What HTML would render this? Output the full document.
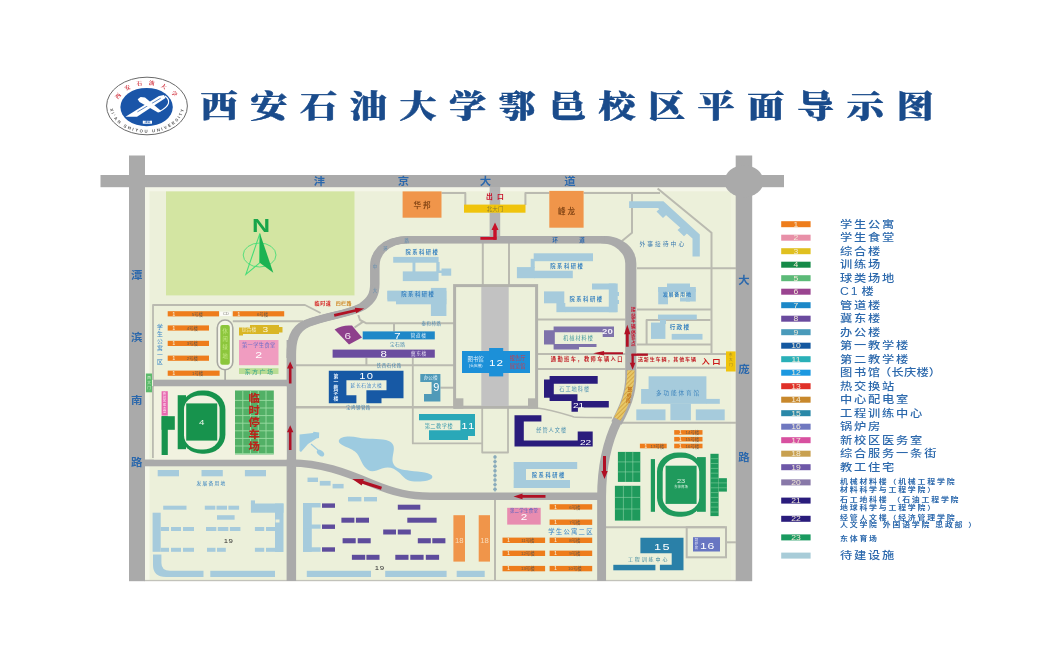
<!DOCTYPE html>
<html lang="zh-CN"><head><meta charset="utf-8"><title>西安石油大学鄠邑校区平面导示图</title>
<style>html,body{margin:0;padding:0;background:#fff;overflow:hidden}svg{display:block;filter:blur(0.45px)}</style></head>
<body>
<svg width="1063" height="646" viewBox="0 0 1063 646">
<rect width="1063" height="646" fill="#ffffff"/>
<rect x="144.5" y="186.8" width="591.5" height="394.2" fill="#ecf0da"/>
<rect x="144.5" y="186.8" width="591.5" height="4.5" fill="#f4f6e8"/>
<rect x="144.5" y="186.8" width="5.0" height="393.2" fill="#f4f6e8"/>
<rect x="731.0" y="186.8" width="5.0" height="393.2" fill="#eff2df"/>
<rect x="144.5" y="579.9" width="591.5" height="1.3" fill="#c2c2ba"/>
<rect x="129.0" y="155.5" width="16.0" height="425.7" fill="#aaaaaa"/>
<rect x="735.7" y="155.5" width="16.5" height="425.7" fill="#aaaaaa"/>
<rect x="100.5" y="175.0" width="683.5" height="12.2" fill="#aaaaaa"/>
<ellipse cx="744" cy="181.3" rx="19.5" ry="16" fill="#aaaaaa"/>
<rect x="166.0" y="191.4" width="188.5" height="104.0" fill="#d3e5a2"/>
<path d="M441.5 193.0 L465.3 193.0 L465.3 205.0" fill="none" stroke="#babab0" stroke-width="2" stroke-linejoin="round"/>
<path d="M525.4 205.0 L525.4 193.0 L549.3 193.0" fill="none" stroke="#babab0" stroke-width="2" stroke-linejoin="round"/>
<path d="M583.6 193.0 L660.0 193.0" fill="none" stroke="#babab0" stroke-width="2" stroke-linejoin="round"/>
<path d="M657.6 188.5 L711.5 232.7 L711.5 354.0" fill="none" stroke="#babab0" stroke-width="2" stroke-linejoin="round"/>
<path d="M632.0 193.0 L632.0 232.7 L622.0 241.0" fill="none" stroke="#babab0" stroke-width="2" stroke-linejoin="round"/>
<path d="M637.0 268.3 L736.0 268.3" fill="none" stroke="#babab0" stroke-width="2" stroke-linejoin="round"/>
<path d="M637.0 309.5 L711.5 309.5" fill="none" stroke="#babab0" stroke-width="2" stroke-linejoin="round"/>
<path d="M646.6 344.6 L646.6 320.0 L710.5 320.0" fill="none" stroke="#babab0" stroke-width="2" stroke-linejoin="round"/>
<path d="M637.0 344.6 L711.5 344.6" fill="none" stroke="#babab0" stroke-width="2" stroke-linejoin="round"/>
<path d="M637.0 354.0 L727.0 354.0" fill="none" stroke="#babab0" stroke-width="2" stroke-linejoin="round"/>
<path d="M637.0 367.7 L727.0 367.7" fill="none" stroke="#babab0" stroke-width="2" stroke-linejoin="round"/>
<path d="M618.0 422.8 L736.0 422.8" fill="none" stroke="#babab0" stroke-width="2" stroke-linejoin="round"/>
<path d="M482.8 243.0 L482.8 285.0" fill="none" stroke="#babab0" stroke-width="2" stroke-linejoin="round"/>
<path d="M509.0 243.0 L509.0 285.0" fill="none" stroke="#babab0" stroke-width="2" stroke-linejoin="round"/>
<path d="M537.0 319.6 L625.5 319.6" fill="none" stroke="#babab0" stroke-width="2" stroke-linejoin="round"/>
<path d="M537.0 354.0 L625.5 354.0" fill="none" stroke="#babab0" stroke-width="2" stroke-linejoin="round"/>
<path d="M537.0 369.0 L625.5 369.0" fill="none" stroke="#babab0" stroke-width="2" stroke-linejoin="round"/>
<path d="M537 408 C550 409.3 560 412.6 574 417 C580 417.6 600 417.6 612 417.6" fill="none" stroke="#babab0" stroke-width="1.6"/>
<path d="M358.3 315.0 L360.0 320.0 L366.0 323.2 L454.0 323.2" fill="none" stroke="#babab0" stroke-width="2" stroke-linejoin="round"/>
<path d="M354.5 327.5 L363.2 321.7" fill="none" stroke="#babab0" stroke-width="2" stroke-linejoin="round"/>
<path d="M394.0 323.0 L394.0 331.5" fill="none" stroke="#babab0" stroke-width="2" stroke-linejoin="round"/>
<path d="M296.0 365.2 L454.0 365.2" fill="none" stroke="#babab0" stroke-width="2" stroke-linejoin="round"/>
<path d="M366.4 357.7 L366.4 365.2" fill="none" stroke="#babab0" stroke-width="2" stroke-linejoin="round"/>
<path d="M412.8 357.7 L412.8 443.4 L482.0 443.4" fill="none" stroke="#babab0" stroke-width="1.8" stroke-linejoin="round"/>
<path d="M440.4 387.7 L454.0 387.7" fill="none" stroke="#babab0" stroke-width="2" stroke-linejoin="round"/>
<path d="M296.0 407.3 L538.0 407.3" fill="none" stroke="#babab0" stroke-width="2.6" stroke-linejoin="round"/>
<path d="M482.2 408.0 L482.2 452.5 L508.0 452.5 L508.0 408.0" fill="none" stroke="#babab0" stroke-width="1.8" stroke-linejoin="round"/>
<path d="M153.0 380.0 L153.0 305.0 L305.0 305.0 L320.6 313.0" fill="none" stroke="#babab0" stroke-width="1.8" stroke-linejoin="round"/>
<path d="M232.8 321.3 L303.0 321.3" fill="none" stroke="#babab0" stroke-width="2" stroke-linejoin="round"/>
<path d="M153.0 458.0 L153.0 386.0" fill="none" stroke="#babab0" stroke-width="2" stroke-linejoin="round"/>
<path d="M495.0 500.0 L495.0 580.0" fill="none" stroke="#babab0" stroke-width="2" stroke-linejoin="round"/>
<path d="M606.0 527.2 L725.6 527.2" fill="none" stroke="#babab0" stroke-width="2" stroke-linejoin="round"/>
<path d="M726.0 542.3 L736.0 542.3" fill="none" stroke="#babab0" stroke-width="2" stroke-linejoin="round"/>
<rect x="686.7" y="527.2" width="39.3" height="30.1" fill="none" stroke="#babab0" stroke-width="2"/>
<rect x="153.0" y="379.7" width="137.0" height="6.8" fill="#aaaaaa"/>
<rect x="145.0" y="459.5" width="145.0" height="6.8" fill="#aaaaaa"/>
<rect x="286.6" y="340.0" width="9.5" height="241.0" fill="#aaaaaa"/>
<rect x="489.6" y="187.0" width="10.6" height="51.0" fill="#b4b4b4"/>
<path d="M291.2 358 C291 340 294 329 307 323.4 C328 315.5 351 313.5 362.5 306.5 C372 300 374.8 294 374.8 284 L374.8 266 C374.8 256 382 239.6 409 239.6 L604 239.6" fill="none" stroke="#aaaaaa" stroke-width="7.3" transform="translate(-1.1 0)"/>
<path d="M291.2 358 C291 340 294 329 307 323.4 C328 315.5 351 313.5 362.5 306.5 C372 300 374.8 294 374.8 284 L374.8 266 C374.8 256 382 239.6 409 239.6 L604 239.6" fill="none" stroke="#aaaaaa" stroke-width="7.3" transform="translate(0 0)"/>
<path d="M291.2 358 C291 340 294 329 307 323.4 C328 315.5 351 313.5 362.5 306.5 C372 300 374.8 294 374.8 284 L374.8 266 C374.8 256 382 239.6 409 239.6 L604 239.6" fill="none" stroke="#aaaaaa" stroke-width="7.3" transform="translate(1.1 0)"/>
<path d="M603 239.6 A27.8 24 0 0 1 630.8 263.6 L630.8 376 C630.8 394 625 407 616.5 423" fill="none" stroke="#aaaaaa" stroke-width="7.3" transform="translate(-1.9 0)"/>
<path d="M603 239.6 A27.8 24 0 0 1 630.8 263.6 L630.8 376 C630.8 394 625 407 616.5 423" fill="none" stroke="#aaaaaa" stroke-width="7.3" transform="translate(0 0)"/>
<path d="M603 239.6 A27.8 24 0 0 1 630.8 263.6 L630.8 376 C630.8 394 625 407 616.5 423" fill="none" stroke="#aaaaaa" stroke-width="7.3" transform="translate(1.9 0)"/>
<path d="M617.5 421 C610 436 601.6 460 601.6 497 L601.6 581" fill="none" stroke="#aaaaaa" stroke-width="7.3" transform="translate(-0.8 0)"/>
<path d="M617.5 421 C610 436 601.6 460 601.6 497 L601.6 581" fill="none" stroke="#aaaaaa" stroke-width="7.3" transform="translate(0.8 0)"/>
<path d="M291 463 C320 463 345 472 372 483.5 C395 493 410 496.3 430 496.3 L602 496.3" fill="none" stroke="#aaaaaa" stroke-width="7.4"/>
<defs><pattern id="hz" width="3" height="3" patternUnits="userSpaceOnUse" patternTransform="rotate(45)"><rect width="3" height="3" fill="#e8c868"/><rect width="1" height="3" fill="#d4a644"/></pattern></defs>
<path d="M630.9 370.3 C630.9 391 625 405 617.3 419" fill="none" stroke="url(#hz)" stroke-width="7.4" transform="translate(0 0)"/>
<rect x="454.6" y="285.6" width="82" height="121.6" fill="none" stroke="#b2b2ac" stroke-width="3"/>
<rect x="481.3" y="287.0" width="27.4" height="119.0" fill="#c2c2c2"/>
<rect x="454.0" y="398.3" width="9.4" height="10.3" fill="#b2b2ac"/>
<rect x="528.0" y="398.3" width="10.0" height="10.3" fill="#b2b2ac"/>
<rect x="402.6" y="191.4" width="38.9" height="26.3" fill="#f0954a"/>
<text x="423.0" y="207.6" font-size="7.6" fill="#8a4a18" text-anchor="middle" font-weight="bold" letter-spacing="2" font-family="&quot;Liberation Sans&quot;,&quot;Noto Sans CJK SC&quot;,sans-serif">华邦</text>
<rect x="549.3" y="190.9" width="34.3" height="36.8" fill="#f0954a"/>
<text x="567.5" y="213.6" font-size="7.6" fill="#8a4a18" text-anchor="middle" font-weight="bold" letter-spacing="2" font-family="&quot;Liberation Sans&quot;,&quot;Noto Sans CJK SC&quot;,sans-serif">峰龙</text>
<rect x="464.0" y="204.6" width="61.5" height="8.1" fill="#f0c40c"/>
<text x="495.0" y="211.0" font-size="5.5" fill="#8a7a30" text-anchor="middle" font-weight="normal" letter-spacing="0" font-family="&quot;Liberation Sans&quot;,&quot;Noto Sans CJK SC&quot;,sans-serif">北大门</text>
<text x="497.0" y="199.2" font-size="6.8" fill="#c8102a" text-anchor="middle" font-weight="bold" letter-spacing="4.2" font-family="&quot;Liberation Sans&quot;,&quot;Noto Sans CJK SC&quot;,sans-serif">出口</text>
<rect x="393.2" y="256.9" width="45.4" height="5.8" fill="#a6cbdc"/>
<rect x="412.5" y="262.0" width="2.9" height="10.0" fill="#a6cbdc"/>
<rect x="402.8" y="271.4" width="35.8" height="9.7" fill="#a6cbdc"/>
<rect x="436.3" y="262.0" width="3.3" height="10.0" fill="#a6cbdc"/>
<rect x="441.5" y="268.5" width="9.7" height="7.2" fill="#a6cbdc"/>
<rect x="438.0" y="270.5" width="4.0" height="2.5" fill="#a6cbdc"/>
<rect x="387.4" y="290.8" width="59.0" height="8.7" fill="#a6cbdc"/>
<rect x="387.4" y="290.8" width="13.6" height="10.6" fill="#a6cbdc"/>
<rect x="396.0" y="299.0" width="50.4" height="5.3" fill="#a6cbdc"/>
<rect x="430.9" y="287.9" width="15.5" height="28.1" fill="#a6cbdc"/>
<rect x="533.7" y="253.3" width="59.3" height="7.9" fill="#a6cbdc"/>
<rect x="516.9" y="267.1" width="17.8" height="11.1" fill="#a6cbdc"/>
<rect x="534.0" y="270.7" width="38.8" height="7.5" fill="#a6cbdc"/>
<rect x="530.7" y="258.8" width="4.0" height="9.2" fill="#a6cbdc"/>
<rect x="544.0" y="291.4" width="20.3" height="11.9" fill="#a6cbdc"/>
<rect x="556.4" y="303.0" width="8.9" height="9.2" fill="#a6cbdc"/>
<rect x="565.0" y="306.7" width="51.7" height="5.5" fill="#a6cbdc"/>
<rect x="592.0" y="283.5" width="23.7" height="6.0" fill="#a6cbdc"/>
<rect x="608.8" y="283.5" width="8.9" height="28.7" fill="#a6cbdc"/>
<rect x="613.0" y="292.0" width="6.0" height="4.0" fill="#a6cbdc"/>
<rect x="613.0" y="300.0" width="6.0" height="4.0" fill="#a6cbdc"/>
<path d="M629.1 201.2 L663.4 201.2 L699.8 234.5 L699.8 256.5 L692.5 256.5 L692.5 238.4 L658 207.9 L629.1 207.9 Z" fill="#a6cbdc"/>
<path d="M656.5 211.5 L661.5 207.3 L668 213.3 L663 218 Z M677.5 230 L682.8 225.6 L689 231.6 L684 236.2 Z" fill="#a6cbdc"/>
<rect x="658.2" y="287.0" width="37.6" height="5.0" fill="#a6cbdc"/>
<rect x="658.2" y="287.0" width="9.8" height="17.3" fill="#a6cbdc"/>
<rect x="667.0" y="283.5" width="23.0" height="5.5" fill="#a6cbdc"/>
<rect x="686.0" y="289.0" width="9.8" height="12.5" fill="#a6cbdc"/>
<rect x="680.0" y="297.5" width="10.0" height="4.0" fill="#a6cbdc"/>
<rect x="658.0" y="314.6" width="38.8" height="5.0" fill="#a6cbdc"/>
<rect x="651.0" y="322.6" width="14.4" height="16.3" fill="#a6cbdc"/>
<rect x="671.7" y="333.9" width="30.8" height="5.7" fill="#a6cbdc"/>
<rect x="660.0" y="320.0" width="6.0" height="4.0" fill="#a6cbdc"/>
<rect x="648.6" y="376.3" width="57.8" height="27.5" fill="#a6cbdc"/>
<rect x="641.1" y="389.0" width="7.9" height="14.8" fill="#a6cbdc"/>
<rect x="706.0" y="398.9" width="13.8" height="4.9" fill="#a6cbdc"/>
<rect x="670.4" y="403.5" width="20.5" height="16.8" fill="#a6cbdc"/>
<rect x="636.3" y="409.4" width="29.2" height="10.9" fill="#a6cbdc"/>
<rect x="695.8" y="409.4" width="28.9" height="10.9" fill="#a6cbdc"/>
<rect x="513.8" y="462.0" width="63.4" height="7.0" fill="#a6cbdc"/>
<rect x="513.8" y="462.0" width="12.2" height="26.0" fill="#a6cbdc"/>
<rect x="513.8" y="480.0" width="56.2" height="8.0" fill="#a6cbdc"/>
<rect x="157.7" y="470.0" width="21.3" height="6.3" fill="#a6cbdc"/>
<rect x="201.5" y="470.0" width="21.3" height="6.3" fill="#a6cbdc"/>
<rect x="244.9" y="470.0" width="21.1" height="6.3" fill="#a6cbdc"/>
<rect x="163.2" y="505.7" width="23.3" height="4.0" fill="#a6cbdc"/>
<rect x="204.8" y="505.7" width="10.5" height="4.0" fill="#a6cbdc"/>
<rect x="216.5" y="505.7" width="10.5" height="4.0" fill="#a6cbdc"/>
<rect x="228.4" y="505.7" width="10.7" height="4.0" fill="#a6cbdc"/>
<rect x="217.0" y="515.2" width="17.6" height="4.5" fill="#a6cbdc"/>
<rect x="152.6" y="512.7" width="8.1" height="39.1" fill="#a6cbdc"/>
<rect x="160.7" y="527.0" width="8.3" height="4.0" fill="#a6cbdc"/>
<rect x="171.0" y="527.0" width="10.0" height="4.0" fill="#a6cbdc"/>
<rect x="183.0" y="527.0" width="11.0" height="4.0" fill="#a6cbdc"/>
<rect x="160.7" y="547.8" width="8.3" height="4.0" fill="#a6cbdc"/>
<rect x="171.0" y="547.8" width="10.0" height="4.0" fill="#a6cbdc"/>
<rect x="183.0" y="547.8" width="11.0" height="4.0" fill="#a6cbdc"/>
<rect x="206.0" y="527.0" width="10.3" height="4.0" fill="#a6cbdc"/>
<rect x="217.8" y="527.0" width="10.5" height="4.0" fill="#a6cbdc"/>
<rect x="229.9" y="527.0" width="10.5" height="4.0" fill="#a6cbdc"/>
<rect x="207.0" y="547.8" width="8.5" height="4.0" fill="#a6cbdc"/>
<rect x="217.0" y="547.8" width="8.8" height="4.0" fill="#a6cbdc"/>
<rect x="254.9" y="527.0" width="9.3" height="4.0" fill="#a6cbdc"/>
<rect x="266.0" y="527.0" width="9.5" height="4.0" fill="#a6cbdc"/>
<rect x="254.9" y="547.8" width="9.3" height="4.0" fill="#a6cbdc"/>
<rect x="266.0" y="547.8" width="9.5" height="4.0" fill="#a6cbdc"/>
<rect x="250.9" y="503.5" width="32.6" height="9.2" fill="#a6cbdc"/>
<rect x="250.9" y="500.4" width="4.1" height="3.6" fill="#a6cbdc"/>
<rect x="275.0" y="503.5" width="8.5" height="48.5" fill="#a6cbdc"/>
<rect x="275.5" y="519.5" width="4.0" height="3.0" fill="#ecf0da"/>
<path d="M153 554.5 L161.4 554.5 L161.4 563 Q161.4 570.8 170 570.8 L203.5 570.8 L203.5 577 L166 577 Q153 577 153 565 Z" fill="#a6cbdc"/>
<rect x="210.3" y="570.8" width="64.7" height="6.2" fill="#a6cbdc"/>
<rect x="303.0" y="503.0" width="8.8" height="48.8" fill="#a6cbdc"/>
<rect x="303.0" y="503.0" width="17.6" height="4.5" fill="#a6cbdc"/>
<rect x="303.0" y="524.5" width="17.6" height="4.2" fill="#a6cbdc"/>
<rect x="303.0" y="547.3" width="17.6" height="4.5" fill="#a6cbdc"/>
<rect x="307.5" y="477.6" width="10.5" height="4.4" fill="#a6cbdc"/>
<rect x="319.8" y="480.9" width="10.8" height="4.7" fill="#a6cbdc"/>
<rect x="332.6" y="483.9" width="11.0" height="4.5" fill="#a6cbdc"/>
<rect x="348.0" y="497.0" width="13.4" height="4.4" fill="#a6cbdc"/>
<rect x="364.0" y="497.0" width="13.0" height="4.4" fill="#a6cbdc"/>
<rect x="306.8" y="570.8" width="64.2" height="6.2" fill="#a6cbdc"/>
<rect x="385.2" y="570.8" width="61.4" height="6.2" fill="#a6cbdc"/>
<rect x="456.7" y="570.8" width="28.0" height="6.2" fill="#a6cbdc"/>
<path d="M338.8 440.6 C340 436 350 435.6 358 437.4 C368 439.5 378 438 386 440 C392 441.5 394.5 445 393.8 450 C393 456 391.5 460 393.5 464 C396 469 402 469.5 410 470.8 C420 472 432 472.5 432.4 476.8 C432.4 481 420 482.3 412 481.3 C405 480.3 403 476 399 472.5 C394 468 389 466 382 468.5 C376 470.8 372 472.5 368 470 C362 466 361 459 357 453.5 C353 448 338 446 338.8 440.6 Z" fill="#9dcbe0"/>
<path d="M299.5 434.5 L313 433 L313.5 431.8 L319.2 432.6 L319 438 L316.5 438.5 L308 444 L301 452 L299.5 451 Z" fill="#9dcbe0"/>
<path d="M311 444 L318 450" stroke="#9dcbe0" stroke-width="1.2"/>
<ellipse cx="320.5" cy="453" rx="4.2" ry="2.6" transform="rotate(40 320.5 453)" fill="#9dcbe0"/>
<circle cx="495" cy="457.0" r="1.7" fill="#7fa3b6"/>
<circle cx="495" cy="461.6" r="1.7" fill="#7fa3b6"/>
<circle cx="495" cy="466.2" r="1.7" fill="#7fa3b6"/>
<circle cx="495" cy="470.8" r="1.7" fill="#7fa3b6"/>
<circle cx="495" cy="475.4" r="1.7" fill="#7fa3b6"/>
<circle cx="495" cy="480.0" r="1.7" fill="#7fa3b6"/>
<circle cx="495" cy="484.6" r="1.7" fill="#7fa3b6"/>
<circle cx="495" cy="489.2" r="1.7" fill="#7fa3b6"/>
<path d="M495.0 455.0 L495.0 492.0" fill="none" stroke="#9ab7c4" stroke-width="0.8" stroke-linejoin="round"/>
<rect x="167.7" y="311.2" width="51.3" height="5.2" fill="#ee7d1c"/>
<text x="173.7" y="315.6" font-size="4.6" fill="#f6e6c8" text-anchor="middle" font-weight="bold" letter-spacing="0" font-family="&quot;Liberation Sans&quot;,&quot;Noto Sans CJK SC&quot;,sans-serif">1</text>
<text x="197.3" y="315.5" font-size="4.4" fill="#6a5a48" text-anchor="middle" font-weight="normal" letter-spacing="0" font-family="&quot;Liberation Sans&quot;,&quot;Noto Sans CJK SC&quot;,sans-serif">5号楼</text>
<rect x="232.8" y="311.2" width="51.4" height="5.2" fill="#ee7d1c"/>
<text x="238.8" y="315.6" font-size="4.6" fill="#f6e6c8" text-anchor="middle" font-weight="bold" letter-spacing="0" font-family="&quot;Liberation Sans&quot;,&quot;Noto Sans CJK SC&quot;,sans-serif">1</text>
<text x="262.5" y="315.5" font-size="4.4" fill="#6a5a48" text-anchor="middle" font-weight="normal" letter-spacing="0" font-family="&quot;Liberation Sans&quot;,&quot;Noto Sans CJK SC&quot;,sans-serif">6号楼</text>
<rect x="220.0" y="311.6" width="11.5" height="4.4" fill="#fbfbf6"/>
<text x="225.8" y="315.4" font-size="4.4" fill="#8a8a80" text-anchor="middle" font-weight="normal" letter-spacing="0" font-family="&quot;Liberation Sans&quot;,&quot;Noto Sans CJK SC&quot;,sans-serif">CD</text>
<rect x="167.7" y="325.4" width="41.3" height="5.2" fill="#ee7d1c"/>
<text x="173.7" y="329.8" font-size="4.6" fill="#f6e6c8" text-anchor="middle" font-weight="bold" letter-spacing="0" font-family="&quot;Liberation Sans&quot;,&quot;Noto Sans CJK SC&quot;,sans-serif">1</text>
<text x="192.3" y="329.7" font-size="4.4" fill="#6a5a48" text-anchor="middle" font-weight="normal" letter-spacing="0" font-family="&quot;Liberation Sans&quot;,&quot;Noto Sans CJK SC&quot;,sans-serif">4号楼</text>
<rect x="167.7" y="340.8" width="41.3" height="5.2" fill="#ee7d1c"/>
<text x="173.7" y="345.2" font-size="4.6" fill="#f6e6c8" text-anchor="middle" font-weight="bold" letter-spacing="0" font-family="&quot;Liberation Sans&quot;,&quot;Noto Sans CJK SC&quot;,sans-serif">1</text>
<text x="192.3" y="345.1" font-size="4.4" fill="#6a5a48" text-anchor="middle" font-weight="normal" letter-spacing="0" font-family="&quot;Liberation Sans&quot;,&quot;Noto Sans CJK SC&quot;,sans-serif">3号楼</text>
<rect x="167.7" y="355.6" width="41.3" height="5.2" fill="#ee7d1c"/>
<text x="173.7" y="360.0" font-size="4.6" fill="#f6e6c8" text-anchor="middle" font-weight="bold" letter-spacing="0" font-family="&quot;Liberation Sans&quot;,&quot;Noto Sans CJK SC&quot;,sans-serif">1</text>
<text x="192.3" y="359.9" font-size="4.4" fill="#6a5a48" text-anchor="middle" font-weight="normal" letter-spacing="0" font-family="&quot;Liberation Sans&quot;,&quot;Noto Sans CJK SC&quot;,sans-serif">2号楼</text>
<rect x="167.7" y="370.6" width="51.9" height="5.2" fill="#ee7d1c"/>
<text x="173.7" y="375.0" font-size="4.6" fill="#f6e6c8" text-anchor="middle" font-weight="bold" letter-spacing="0" font-family="&quot;Liberation Sans&quot;,&quot;Noto Sans CJK SC&quot;,sans-serif">1</text>
<text x="197.6" y="374.9" font-size="4.4" fill="#6a5a48" text-anchor="middle" font-weight="normal" letter-spacing="0" font-family="&quot;Liberation Sans&quot;,&quot;Noto Sans CJK SC&quot;,sans-serif">1号楼</text>
<text x="160.0" y="329.1" font-size="5.8" fill="#3a86c8" text-anchor="middle" font-weight="normal" letter-spacing="0" font-family="&quot;Liberation Sans&quot;,&quot;Noto Sans CJK SC&quot;,sans-serif">学</text>
<text x="160.0" y="336.0" font-size="5.8" fill="#3a86c8" text-anchor="middle" font-weight="normal" letter-spacing="0" font-family="&quot;Liberation Sans&quot;,&quot;Noto Sans CJK SC&quot;,sans-serif">生</text>
<text x="160.0" y="342.9" font-size="5.8" fill="#3a86c8" text-anchor="middle" font-weight="normal" letter-spacing="0" font-family="&quot;Liberation Sans&quot;,&quot;Noto Sans CJK SC&quot;,sans-serif">公</text>
<text x="160.0" y="349.8" font-size="5.8" fill="#3a86c8" text-anchor="middle" font-weight="normal" letter-spacing="0" font-family="&quot;Liberation Sans&quot;,&quot;Noto Sans CJK SC&quot;,sans-serif">寓</text>
<text x="160.0" y="356.7" font-size="5.8" fill="#3a86c8" text-anchor="middle" font-weight="normal" letter-spacing="0" font-family="&quot;Liberation Sans&quot;,&quot;Noto Sans CJK SC&quot;,sans-serif">一</text>
<text x="160.0" y="363.6" font-size="5.8" fill="#3a86c8" text-anchor="middle" font-weight="normal" letter-spacing="0" font-family="&quot;Liberation Sans&quot;,&quot;Noto Sans CJK SC&quot;,sans-serif">区</text>
<rect x="217.3" y="320" width="15.5" height="49.7" rx="7.7" fill="#f4f6e8" stroke="#a8a8a2" stroke-width="1.6"/>
<path d="M225.1 369.7 L225.1 380.0" fill="none" stroke="#a8a8a2" stroke-width="1.6" stroke-linejoin="round"/>
<rect x="220.3" y="325" width="9.5" height="39.7" rx="2" fill="#8cc63c"/>
<text x="225.1" y="332.9" font-size="5.2" fill="#c4e884" text-anchor="middle" font-weight="normal" letter-spacing="0" font-family="&quot;Liberation Sans&quot;,&quot;Noto Sans CJK SC&quot;,sans-serif">休</text>
<text x="225.1" y="341.1" font-size="5.2" fill="#c4e884" text-anchor="middle" font-weight="normal" letter-spacing="0" font-family="&quot;Liberation Sans&quot;,&quot;Noto Sans CJK SC&quot;,sans-serif">闲</text>
<text x="225.1" y="349.3" font-size="5.2" fill="#c4e884" text-anchor="middle" font-weight="normal" letter-spacing="0" font-family="&quot;Liberation Sans&quot;,&quot;Noto Sans CJK SC&quot;,sans-serif">绿</text>
<text x="225.1" y="357.5" font-size="5.2" fill="#c4e884" text-anchor="middle" font-weight="normal" letter-spacing="0" font-family="&quot;Liberation Sans&quot;,&quot;Noto Sans CJK SC&quot;,sans-serif">地</text>
<path d="M239 327.5 L250 327.5 L250 325 L279 325 L279 327 L282.5 327 L282.5 332.5 L279 332.5 L279 334 L243 334 L243 335.6 L239 335.6 Z" fill="#d9b626"/>
<text x="249.0" y="331.4" font-size="4.8" fill="#f2ecc0" text-anchor="middle" font-weight="normal" letter-spacing="0" font-family="&quot;Liberation Sans&quot;,&quot;Noto Sans CJK SC&quot;,sans-serif">综合楼</text>
<text x="0.0" y="0.0" font-size="7.8" fill="#fbf6d8" text-anchor="middle" font-weight="normal" letter-spacing="0" font-family="&quot;Liberation Sans&quot;,&quot;Noto Sans CJK SC&quot;,sans-serif" transform="translate(265.4 332.4) scale(1.3 1)">3</text>
<rect x="239.0" y="340.0" width="39.5" height="25.2" fill="#f09cc0"/>
<text x="258.8" y="346.8" font-size="5.2" fill="#6a6cc8" text-anchor="middle" font-weight="normal" letter-spacing="0.4" font-family="&quot;Liberation Sans&quot;,&quot;Noto Sans CJK SC&quot;,sans-serif">第一学生食堂</text>
<text x="0.0" y="0.0" font-size="9.5" fill="#ffffff" text-anchor="middle" font-weight="normal" letter-spacing="0" font-family="&quot;Liberation Sans&quot;,&quot;Noto Sans CJK SC&quot;,sans-serif" transform="translate(258.8 357.6) scale(1.3 1)">2</text>
<rect x="239.0" y="368.2" width="39.5" height="5.8" fill="#b9dc94"/>
<text x="259.6" y="373.6" font-size="6" fill="#3aa48c" text-anchor="middle" font-weight="normal" letter-spacing="1.5" font-family="&quot;Liberation Sans&quot;,&quot;Noto Sans CJK SC&quot;,sans-serif">东方广场</text>
<rect x="145.9" y="373.5" width="6.1" height="18.8" fill="#5cba6c"/>
<text x="149.0" y="379.3" font-size="3.6" fill="#d8f0d0" text-anchor="middle" font-weight="normal" letter-spacing="0" font-family="&quot;Liberation Sans&quot;,&quot;Noto Sans CJK SC&quot;,sans-serif">西</text>
<text x="149.0" y="383.9" font-size="3.6" fill="#d8f0d0" text-anchor="middle" font-weight="normal" letter-spacing="0" font-family="&quot;Liberation Sans&quot;,&quot;Noto Sans CJK SC&quot;,sans-serif">大</text>
<text x="149.0" y="388.5" font-size="3.6" fill="#d8f0d0" text-anchor="middle" font-weight="normal" letter-spacing="0" font-family="&quot;Liberation Sans&quot;,&quot;Noto Sans CJK SC&quot;,sans-serif">门</text>
<rect x="153.8" y="386.5" width="132.8" height="73.0" fill="#f1f2e0"/>
<rect x="161.6" y="391.2" width="6.2" height="24.4" fill="#e868b0"/>
<text x="164.7" y="394.8" font-size="3.2" fill="#fbe0f0" text-anchor="middle" font-weight="normal" letter-spacing="0" font-family="&quot;Liberation Sans&quot;,&quot;Noto Sans CJK SC&quot;,sans-serif">新</text>
<text x="164.7" y="398.5" font-size="3.2" fill="#fbe0f0" text-anchor="middle" font-weight="normal" letter-spacing="0" font-family="&quot;Liberation Sans&quot;,&quot;Noto Sans CJK SC&quot;,sans-serif">校</text>
<text x="164.7" y="402.2" font-size="3.2" fill="#fbe0f0" text-anchor="middle" font-weight="normal" letter-spacing="0" font-family="&quot;Liberation Sans&quot;,&quot;Noto Sans CJK SC&quot;,sans-serif">区</text>
<text x="164.7" y="405.9" font-size="3.2" fill="#fbe0f0" text-anchor="middle" font-weight="normal" letter-spacing="0" font-family="&quot;Liberation Sans&quot;,&quot;Noto Sans CJK SC&quot;,sans-serif">医</text>
<text x="164.7" y="409.6" font-size="3.2" fill="#fbe0f0" text-anchor="middle" font-weight="normal" letter-spacing="0" font-family="&quot;Liberation Sans&quot;,&quot;Noto Sans CJK SC&quot;,sans-serif">务</text>
<text x="164.7" y="413.3" font-size="3.2" fill="#fbe0f0" text-anchor="middle" font-weight="normal" letter-spacing="0" font-family="&quot;Liberation Sans&quot;,&quot;Noto Sans CJK SC&quot;,sans-serif">室</text>
<rect x="161.6" y="416.2" width="6.2" height="38.8" fill="#17934d"/>
<rect x="161.6" y="416.2" width="13.2" height="13.6" fill="#17934d"/>
<rect x="177.7" y="395.2" width="8.3" height="54.0" fill="#17934d"/>
<rect x="181" y="390.5" width="44.4" height="63.3" rx="21" ry="19" fill="#17934d"/>
<rect x="184" y="395.5" width="35.6" height="54" rx="16.5" ry="14" fill="#f1f2e0"/>
<rect x="186.2" y="403.4" width="31.0" height="37.2" fill="#17934d"/>
<text x="0.0" y="0.0" font-size="7.5" fill="#e8f6e8" text-anchor="middle" font-weight="normal" letter-spacing="0" font-family="&quot;Liberation Sans&quot;,&quot;Noto Sans CJK SC&quot;,sans-serif" transform="translate(201.7 424.8) scale(1.3 1)">4</text>
<rect x="235.0" y="390.5" width="38.8" height="63.9" fill="#52b066"/>
<path d="M242.8 390.5 L242.8 454.4" fill="none" stroke="#9adba2" stroke-width="0.9" stroke-linejoin="round"/>
<path d="M250.5 390.5 L250.5 454.4" fill="none" stroke="#9adba2" stroke-width="0.9" stroke-linejoin="round"/>
<path d="M258.3 390.5 L258.3 454.4" fill="none" stroke="#9adba2" stroke-width="0.9" stroke-linejoin="round"/>
<path d="M266.0 390.5 L266.0 454.4" fill="none" stroke="#9adba2" stroke-width="0.9" stroke-linejoin="round"/>
<path d="M235.0 400.4 L273.8 400.4" fill="none" stroke="#9adba2" stroke-width="0.9" stroke-linejoin="round"/>
<path d="M235.0 408.0 L273.8 408.0" fill="none" stroke="#9adba2" stroke-width="0.9" stroke-linejoin="round"/>
<path d="M235.0 415.6 L273.8 415.6" fill="none" stroke="#9adba2" stroke-width="0.9" stroke-linejoin="round"/>
<path d="M235.0 423.2 L273.8 423.2" fill="none" stroke="#9adba2" stroke-width="0.9" stroke-linejoin="round"/>
<path d="M235.0 430.8 L273.8 430.8" fill="none" stroke="#9adba2" stroke-width="0.9" stroke-linejoin="round"/>
<path d="M235.0 438.4 L273.8 438.4" fill="none" stroke="#9adba2" stroke-width="0.9" stroke-linejoin="round"/>
<path d="M235.0 446.0 L273.8 446.0" fill="none" stroke="#9adba2" stroke-width="0.9" stroke-linejoin="round"/>
<path d="M235.0 453.6 L273.8 453.6" fill="none" stroke="#9adba2" stroke-width="0.9" stroke-linejoin="round"/>
<text x="0.0" y="0.0" font-size="10.3" fill="#b8261c" text-anchor="middle" font-weight="900" letter-spacing="0" font-family="&quot;Liberation Sans&quot;,&quot;Noto Sans CJK SC&quot;,sans-serif" transform="translate(254.1 402.1) scale(1.1 1)">临</text>
<text x="0.0" y="0.0" font-size="10.3" fill="#b8261c" text-anchor="middle" font-weight="900" letter-spacing="0" font-family="&quot;Liberation Sans&quot;,&quot;Noto Sans CJK SC&quot;,sans-serif" transform="translate(254.1 414.0) scale(1.1 1)">时</text>
<text x="0.0" y="0.0" font-size="10.3" fill="#b8261c" text-anchor="middle" font-weight="900" letter-spacing="0" font-family="&quot;Liberation Sans&quot;,&quot;Noto Sans CJK SC&quot;,sans-serif" transform="translate(254.1 425.9) scale(1.1 1)">停</text>
<text x="0.0" y="0.0" font-size="10.3" fill="#b8261c" text-anchor="middle" font-weight="900" letter-spacing="0" font-family="&quot;Liberation Sans&quot;,&quot;Noto Sans CJK SC&quot;,sans-serif" transform="translate(254.1 437.8) scale(1.1 1)">车</text>
<text x="0.0" y="0.0" font-size="10.3" fill="#b8261c" text-anchor="middle" font-weight="900" letter-spacing="0" font-family="&quot;Liberation Sans&quot;,&quot;Noto Sans CJK SC&quot;,sans-serif" transform="translate(254.1 449.7) scale(1.1 1)">场</text>
<path d="M334.6 329.6 Q343 324.5 352 325.6 L362 337.6 L349 344.6 Z" fill="#8e3f8c"/>
<text x="0.0" y="0.0" font-size="9" fill="#f0e0f0" text-anchor="middle" font-weight="normal" letter-spacing="0" font-family="&quot;Liberation Sans&quot;,&quot;Noto Sans CJK SC&quot;,sans-serif" transform="translate(347.8 338.6) scale(1.3 1)">6</text>
<rect x="362.7" y="331.4" width="72.1" height="8.0" fill="#1e88c8"/>
<text x="0.0" y="0.0" font-size="8.8" fill="#ffffff" text-anchor="middle" font-weight="normal" letter-spacing="0" font-family="&quot;Liberation Sans&quot;,&quot;Noto Sans CJK SC&quot;,sans-serif" transform="translate(397.5 338.8) scale(1.3 1)">7</text>
<text x="418.5" y="337.2" font-size="4.8" fill="#d8ecf8" text-anchor="middle" font-weight="normal" letter-spacing="0.5" font-family="&quot;Liberation Sans&quot;,&quot;Noto Sans CJK SC&quot;,sans-serif">管道楼</text>
<text x="397.7" y="346.0" font-size="4.8" fill="#4a8ab0" text-anchor="middle" font-weight="normal" letter-spacing="0.5" font-family="&quot;Liberation Sans&quot;,&quot;Noto Sans CJK SC&quot;,sans-serif">宝石路</text>
<rect x="332.6" y="349.6" width="102.2" height="8.1" fill="#6b4c9f"/>
<text x="0.0" y="0.0" font-size="8.8" fill="#ffffff" text-anchor="middle" font-weight="normal" letter-spacing="0" font-family="&quot;Liberation Sans&quot;,&quot;Noto Sans CJK SC&quot;,sans-serif" transform="translate(383.6 357.0) scale(1.3 1)">8</text>
<text x="418.8" y="355.3" font-size="4.8" fill="#e0d8f0" text-anchor="middle" font-weight="normal" letter-spacing="0.5" font-family="&quot;Liberation Sans&quot;,&quot;Noto Sans CJK SC&quot;,sans-serif">冀东楼</text>
<text x="389.3" y="367.2" font-size="4.4" fill="#4a86b0" text-anchor="middle" font-weight="normal" letter-spacing="0.6" font-family="&quot;Liberation Sans&quot;,&quot;Noto Sans CJK SC&quot;,sans-serif">铁西石化路</text>
<text x="431.5" y="325.2" font-size="4.4" fill="#4a86b0" text-anchor="middle" font-weight="normal" letter-spacing="0.6" font-family="&quot;Liberation Sans&quot;,&quot;Noto Sans CJK SC&quot;,sans-serif">泰和柿路</text>
<path d="M328.8 370.7 L403.5 370.7 L403.5 398.3 L381.5 398.3 L381.5 403.3 L366.4 403.3 L366.4 390.3 L386.5 390.3 L386.5 380.2 L346.4 380.2 L346.4 395.3 L356.4 395.3 L356.4 403.3 L328.8 403.3 Z" fill="#1759a5"/>
<text x="0.0" y="0.0" font-size="8.6" fill="#ffffff" text-anchor="middle" font-weight="normal" letter-spacing="0.9" font-family="&quot;Liberation Sans&quot;,&quot;Noto Sans CJK SC&quot;,sans-serif" transform="translate(366.7 378.9) scale(1.3 1)">10</text>
<text x="366.5" y="387.3" font-size="4.8" fill="#4a8ac8" text-anchor="middle" font-weight="normal" letter-spacing="0.5" font-family="&quot;Liberation Sans&quot;,&quot;Noto Sans CJK SC&quot;,sans-serif">延长石油大楼</text>
<text x="335.8" y="377.5" font-size="4.8" fill="#e4f0fc" text-anchor="middle" font-weight="bold" letter-spacing="0" font-family="&quot;Liberation Sans&quot;,&quot;Noto Sans CJK SC&quot;,sans-serif">第</text>
<text x="335.8" y="383.1" font-size="4.8" fill="#e4f0fc" text-anchor="middle" font-weight="bold" letter-spacing="0" font-family="&quot;Liberation Sans&quot;,&quot;Noto Sans CJK SC&quot;,sans-serif">一</text>
<text x="335.8" y="388.7" font-size="4.8" fill="#e4f0fc" text-anchor="middle" font-weight="bold" letter-spacing="0" font-family="&quot;Liberation Sans&quot;,&quot;Noto Sans CJK SC&quot;,sans-serif">教</text>
<text x="335.8" y="394.3" font-size="4.8" fill="#e4f0fc" text-anchor="middle" font-weight="bold" letter-spacing="0" font-family="&quot;Liberation Sans&quot;,&quot;Noto Sans CJK SC&quot;,sans-serif">学</text>
<text x="335.8" y="399.9" font-size="4.8" fill="#e4f0fc" text-anchor="middle" font-weight="bold" letter-spacing="0" font-family="&quot;Liberation Sans&quot;,&quot;Noto Sans CJK SC&quot;,sans-serif">楼</text>
<text x="358.4" y="409.4" font-size="4.4" fill="#4a86b0" text-anchor="middle" font-weight="normal" letter-spacing="0.6" font-family="&quot;Liberation Sans&quot;,&quot;Noto Sans CJK SC&quot;,sans-serif">宝鸡钢管路</text>
<path d="M420.3 374 L440.4 374 L440.4 401.5 L424 401.5 L424 394 L431.6 394 L431.6 382 L420.3 382 Z" fill="#4f9ab8"/>
<text x="430.6" y="379.4" font-size="4.6" fill="#e0f0f8" text-anchor="middle" font-weight="normal" letter-spacing="0" font-family="&quot;Liberation Sans&quot;,&quot;Noto Sans CJK SC&quot;,sans-serif">办公楼</text>
<text x="0.0" y="0.0" font-size="10" fill="#ffffff" text-anchor="middle" font-weight="normal" letter-spacing="0" font-family="&quot;Liberation Sans&quot;,&quot;Noto Sans CJK SC&quot;,sans-serif" transform="translate(436.2 391.4) scale(1.1 1)">9</text>
<path d="M419 414 L475 414 L475 435.9 L468 435.9 L468 439.9 L429 439.9 L429 430.3 L460.4 430.3 L460.4 420.3 L419 420.3 Z" fill="#2aa8b8"/>
<text x="438.9" y="427.6" font-size="5.2" fill="#3a9aac" text-anchor="middle" font-weight="normal" letter-spacing="0.5" font-family="&quot;Liberation Sans&quot;,&quot;Noto Sans CJK SC&quot;,sans-serif">第二教学楼</text>
<text x="0.0" y="0.0" font-size="9.6" fill="#ffffff" text-anchor="middle" font-weight="normal" letter-spacing="0.8" font-family="&quot;Liberation Sans&quot;,&quot;Noto Sans CJK SC&quot;,sans-serif" transform="translate(468.3 429.4) scale(1.2 1)">11</text>
<rect x="462.0" y="351.0" width="68.0" height="22.0" fill="#1c90d8"/>
<rect x="489.1" y="348.0" width="14.1" height="28.4" fill="#1c90d8"/>
<text x="475.6" y="361.4" font-size="5.4" fill="#e0f0fc" text-anchor="middle" font-weight="normal" letter-spacing="0" font-family="&quot;Liberation Sans&quot;,&quot;Noto Sans CJK SC&quot;,sans-serif">图书馆</text>
<text x="475.6" y="367.0" font-size="3.8" fill="#e0f0fc" text-anchor="middle" font-weight="normal" letter-spacing="0" font-family="&quot;Liberation Sans&quot;,&quot;Noto Sans CJK SC&quot;,sans-serif">(长庆楼)</text>
<text x="0.0" y="0.0" font-size="9" fill="#ffffff" text-anchor="middle" font-weight="normal" letter-spacing="0.8" font-family="&quot;Liberation Sans&quot;,&quot;Noto Sans CJK SC&quot;,sans-serif" transform="translate(496.6 366.0) scale(1.3 1)">12</text>
<text x="517.6" y="359.6" font-size="5.2" fill="#d03848" text-anchor="middle" font-weight="normal" letter-spacing="0" font-family="&quot;Liberation Sans&quot;,&quot;Noto Sans CJK SC&quot;,sans-serif">报告厅</text>
<text x="517.6" y="368.2" font-size="5.2" fill="#d03848" text-anchor="middle" font-weight="normal" letter-spacing="0" font-family="&quot;Liberation Sans&quot;,&quot;Noto Sans CJK SC&quot;,sans-serif">展览馆</text>
<path d="M553.6 326.4 L614 326.4 L614 337.1 L602.7 337.1 L602.7 332.3 L554.8 332.3 L554.8 343.9 L596.5 343.9 L596.5 347 L579 347 L579 349.5 L553.6 349.5 L553.6 344.4 L544 344.4 L544 330.3 L553.6 330.3 Z" fill="#7e72aa"/>
<text x="0.0" y="0.0" font-size="7.4" fill="#f4f0fa" text-anchor="middle" font-weight="bold" letter-spacing="0" font-family="&quot;Liberation Sans&quot;,&quot;Noto Sans CJK SC&quot;,sans-serif" transform="translate(607.4 333.6) scale(1.3 1)">20</text>
<text x="578.5" y="340.0" font-size="5.2" fill="#46989e" text-anchor="middle" font-weight="normal" letter-spacing="1.0" font-family="&quot;Liberation Sans&quot;,&quot;Noto Sans CJK SC&quot;,sans-serif">机械材料楼</text>
<path d="M549.6 376.1 L597.7 376.1 L597.7 383.8 L553.8 383.8 L553.8 394.2 L577.5 394.2 L577.5 400.9 L608.8 400.9 L608.8 407.5 L577.9 407.5 L577.9 411.7 L571.5 411.7 L571.5 400.9 L549.6 400.9 L549.6 397.7 L544 397.7 L544 379.6 L549.6 379.6 Z" fill="#2a1c7c"/>
<text x="0.0" y="0.0" font-size="7.8" fill="#ffffff" text-anchor="middle" font-weight="normal" letter-spacing="0" font-family="&quot;Liberation Sans&quot;,&quot;Noto Sans CJK SC&quot;,sans-serif" transform="translate(578.5 408.2) scale(1.3 1)">21</text>
<text x="574.7" y="390.8" font-size="5.2" fill="#4a90b0" text-anchor="middle" font-weight="normal" letter-spacing="1.0" font-family="&quot;Liberation Sans&quot;,&quot;Noto Sans CJK SC&quot;,sans-serif">石工地科楼</text>
<path d="M514.5 415.3 L541.4 415.3 L541.4 421.6 L523.8 421.6 L523.8 440.4 L577.7 440.4 L577.7 431.6 L592.7 431.6 L592.7 446.6 L514.5 446.6 Z" fill="#2a1c7c"/>
<text x="0.0" y="0.0" font-size="7.8" fill="#ffffff" text-anchor="middle" font-weight="normal" letter-spacing="0" font-family="&quot;Liberation Sans&quot;,&quot;Noto Sans CJK SC&quot;,sans-serif" transform="translate(585.6 445.1) scale(1.3 1)">22</text>
<text x="551.7" y="432.4" font-size="5.2" fill="#4a90b0" text-anchor="middle" font-weight="normal" letter-spacing="1.0" font-family="&quot;Liberation Sans&quot;,&quot;Noto Sans CJK SC&quot;,sans-serif">经管人文楼</text>
<text x="422.4" y="254.2" font-size="5.3" fill="#3a84c0" text-anchor="middle" font-weight="bold" letter-spacing="1.5" font-family="&quot;Liberation Sans&quot;,&quot;Noto Sans CJK SC&quot;,sans-serif">院系科研楼</text>
<text x="418.3" y="296.4" font-size="5.3" fill="#3a84c0" text-anchor="middle" font-weight="bold" letter-spacing="1.5" font-family="&quot;Liberation Sans&quot;,&quot;Noto Sans CJK SC&quot;,sans-serif">院系科研楼</text>
<text x="567.3" y="268.2" font-size="5.3" fill="#3a84c0" text-anchor="middle" font-weight="bold" letter-spacing="1.5" font-family="&quot;Liberation Sans&quot;,&quot;Noto Sans CJK SC&quot;,sans-serif">院系科研楼</text>
<text x="586.5" y="300.8" font-size="5.3" fill="#3a84c0" text-anchor="middle" font-weight="bold" letter-spacing="1.5" font-family="&quot;Liberation Sans&quot;,&quot;Noto Sans CJK SC&quot;,sans-serif">院系科研楼</text>
<text x="548.8" y="477.4" font-size="5.3" fill="#3a84c0" text-anchor="middle" font-weight="bold" letter-spacing="1.5" font-family="&quot;Liberation Sans&quot;,&quot;Noto Sans CJK SC&quot;,sans-serif">院系科研楼</text>
<text x="662.8" y="246.2" font-size="5.8" fill="#3a7ab0" text-anchor="middle" font-weight="normal" letter-spacing="2" font-family="&quot;Liberation Sans&quot;,&quot;Noto Sans CJK SC&quot;,sans-serif">外事接待中心</text>
<text x="677.2" y="296.2" font-size="5" fill="#3a84c0" text-anchor="middle" font-weight="bold" letter-spacing="0.8" font-family="&quot;Liberation Sans&quot;,&quot;Noto Sans CJK SC&quot;,sans-serif">发展备用地</text>
<text x="680.0" y="329.2" font-size="5.6" fill="#3a84c0" text-anchor="middle" font-weight="bold" letter-spacing="1.2" font-family="&quot;Liberation Sans&quot;,&quot;Noto Sans CJK SC&quot;,sans-serif">行政楼</text>
<text x="678.4" y="394.9" font-size="5.6" fill="#3a82bc" text-anchor="middle" font-weight="normal" letter-spacing="1.9" font-family="&quot;Liberation Sans&quot;,&quot;Noto Sans CJK SC&quot;,sans-serif">多功能体育馆</text>
<text x="211.5" y="484.8" font-size="4.8" fill="#3a84c0" text-anchor="middle" font-weight="normal" letter-spacing="1.2" font-family="&quot;Liberation Sans&quot;,&quot;Noto Sans CJK SC&quot;,sans-serif">发展备用地</text>
<text x="0.0" y="0.0" font-size="6" fill="#333333" text-anchor="middle" font-weight="normal" letter-spacing="0.5" font-family="&quot;Liberation Sans&quot;,&quot;Noto Sans CJK SC&quot;,sans-serif" transform="translate(228.6 543.0) scale(1.3 1)">19</text>
<text x="0.0" y="0.0" font-size="6" fill="#333333" text-anchor="middle" font-weight="normal" letter-spacing="0.5" font-family="&quot;Liberation Sans&quot;,&quot;Noto Sans CJK SC&quot;,sans-serif" transform="translate(379.7 570.0) scale(1.3 1)">19</text>
<text x="555.0" y="241.8" font-size="5.6" fill="#2b68ac" text-anchor="middle" font-weight="bold" letter-spacing="0" font-family="&quot;Liberation Sans&quot;,&quot;Noto Sans CJK SC&quot;,sans-serif">环</text>
<text x="582.0" y="241.8" font-size="5.6" fill="#2b68ac" text-anchor="middle" font-weight="bold" letter-spacing="0" font-family="&quot;Liberation Sans&quot;,&quot;Noto Sans CJK SC&quot;,sans-serif">道</text>
<text x="406.7" y="242.0" font-size="4.4" fill="#5a8ab0" text-anchor="middle" font-weight="normal" letter-spacing="0" font-family="&quot;Liberation Sans&quot;,&quot;Noto Sans CJK SC&quot;,sans-serif">路</text>
<text x="385.4" y="250.0" font-size="4.4" fill="#5a8ab0" text-anchor="middle" font-weight="normal" letter-spacing="0" font-family="&quot;Liberation Sans&quot;,&quot;Noto Sans CJK SC&quot;,sans-serif">环</text>
<text x="375.0" y="268.2" font-size="4.4" fill="#5a8ab0" text-anchor="middle" font-weight="normal" letter-spacing="0" font-family="&quot;Liberation Sans&quot;,&quot;Noto Sans CJK SC&quot;,sans-serif">中</text>
<text x="375.0" y="292.4" font-size="4.4" fill="#5a8ab0" text-anchor="middle" font-weight="normal" letter-spacing="0" font-family="&quot;Liberation Sans&quot;,&quot;Noto Sans CJK SC&quot;,sans-serif">大</text>
<text x="629.9" y="391.4" font-size="4.8" fill="#c4741c" text-anchor="middle" font-weight="bold" letter-spacing="0" font-family="&quot;Liberation Sans&quot;,&quot;Noto Sans CJK SC&quot;,sans-serif">整</text>
<text x="629.3" y="396.5" font-size="4.8" fill="#c4741c" text-anchor="middle" font-weight="bold" letter-spacing="0" font-family="&quot;Liberation Sans&quot;,&quot;Noto Sans CJK SC&quot;,sans-serif">修</text>
<text x="628.5" y="401.6" font-size="4.8" fill="#c4741c" text-anchor="middle" font-weight="bold" letter-spacing="0" font-family="&quot;Liberation Sans&quot;,&quot;Noto Sans CJK SC&quot;,sans-serif">段</text>
<rect x="726.0" y="351.4" width="9.6" height="20.1" fill="#f0c40c"/>
<text x="730.8" y="356.3" font-size="3.6" fill="#8a7a30" text-anchor="middle" font-weight="normal" letter-spacing="0" font-family="&quot;Liberation Sans&quot;,&quot;Noto Sans CJK SC&quot;,sans-serif">东</text>
<text x="730.8" y="360.9" font-size="3.6" fill="#8a7a30" text-anchor="middle" font-weight="normal" letter-spacing="0" font-family="&quot;Liberation Sans&quot;,&quot;Noto Sans CJK SC&quot;,sans-serif">大</text>
<text x="730.8" y="365.5" font-size="3.6" fill="#8a7a30" text-anchor="middle" font-weight="normal" letter-spacing="0" font-family="&quot;Liberation Sans&quot;,&quot;Noto Sans CJK SC&quot;,sans-serif">门</text>
<text x="550.8" y="360.6" font-size="5.2" fill="#c01820" text-anchor="start" font-weight="bold" letter-spacing="1.45" font-family="&quot;Liberation Sans&quot;,&quot;Noto Sans CJK SC&quot;,sans-serif">通勤班车，教师车辆入口</text>
<text x="637.9" y="361.4" font-size="5" fill="#c01820" text-anchor="start" font-weight="bold" letter-spacing="0.9" font-family="&quot;Liberation Sans&quot;,&quot;Noto Sans CJK SC&quot;,sans-serif">送新生车辆，其他车辆</text>
<text x="0.0" y="0.0" font-size="7.4" fill="#cc1a1a" text-anchor="middle" font-weight="bold" letter-spacing="2.2" font-family="&quot;Liberation Sans&quot;,&quot;Noto Sans CJK SC&quot;,sans-serif" transform="translate(712.3 364.4) scale(1.12 1)">入口</text>
<text x="633.4" y="311.2" font-size="4.6" fill="#c8102a" text-anchor="middle" font-weight="bold" letter-spacing="0" font-family="&quot;Liberation Sans&quot;,&quot;Noto Sans CJK SC&quot;,sans-serif">接</text>
<text x="633.4" y="316.8" font-size="4.6" fill="#c8102a" text-anchor="middle" font-weight="bold" letter-spacing="0" font-family="&quot;Liberation Sans&quot;,&quot;Noto Sans CJK SC&quot;,sans-serif">站</text>
<text x="633.4" y="322.4" font-size="4.6" fill="#c8102a" text-anchor="middle" font-weight="bold" letter-spacing="0" font-family="&quot;Liberation Sans&quot;,&quot;Noto Sans CJK SC&quot;,sans-serif">车</text>
<text x="633.4" y="328.0" font-size="4.6" fill="#c8102a" text-anchor="middle" font-weight="bold" letter-spacing="0" font-family="&quot;Liberation Sans&quot;,&quot;Noto Sans CJK SC&quot;,sans-serif">辆</text>
<text x="633.4" y="333.6" font-size="4.6" fill="#c8102a" text-anchor="middle" font-weight="bold" letter-spacing="0" font-family="&quot;Liberation Sans&quot;,&quot;Noto Sans CJK SC&quot;,sans-serif">停</text>
<text x="633.4" y="339.2" font-size="4.6" fill="#c8102a" text-anchor="middle" font-weight="bold" letter-spacing="0" font-family="&quot;Liberation Sans&quot;,&quot;Noto Sans CJK SC&quot;,sans-serif">靠</text>
<text x="633.4" y="344.8" font-size="4.6" fill="#c8102a" text-anchor="middle" font-weight="bold" letter-spacing="0" font-family="&quot;Liberation Sans&quot;,&quot;Noto Sans CJK SC&quot;,sans-serif">点</text>
<text x="323.0" y="305.0" font-size="5" fill="#d41a1a" text-anchor="middle" font-weight="bold" letter-spacing="0.6" font-family="&quot;Liberation Sans&quot;,&quot;Noto Sans CJK SC&quot;,sans-serif">临时道</text>
<text x="343.8" y="305.0" font-size="5" fill="#d08a28" text-anchor="middle" font-weight="bold" letter-spacing="0.4" font-family="&quot;Liberation Sans&quot;,&quot;Noto Sans CJK SC&quot;,sans-serif">四栏路</text>
<rect x="322.0" y="503.4" width="13.0" height="4.4" fill="#5e4c9c"/>
<rect x="322.0" y="524.5" width="13.0" height="4.4" fill="#5e4c9c"/>
<rect x="322.0" y="547.3" width="13.0" height="4.4" fill="#5e4c9c"/>
<rect x="397.8" y="504.7" width="22.5" height="5.0" fill="#5e4c9c"/>
<rect x="341.4" y="517.7" width="13.0" height="5.0" fill="#5e4c9c"/>
<rect x="355.9" y="517.7" width="13.1" height="5.0" fill="#5e4c9c"/>
<rect x="407.3" y="517.7" width="29.3" height="5.0" fill="#5e4c9c"/>
<rect x="383.2" y="529.5" width="12.8" height="5.0" fill="#5e4c9c"/>
<rect x="397.8" y="529.5" width="13.0" height="5.0" fill="#5e4c9c"/>
<rect x="342.6" y="538.2" width="13.1" height="5.1" fill="#5e4c9c"/>
<rect x="357.7" y="538.2" width="13.0" height="5.1" fill="#5e4c9c"/>
<rect x="417.8" y="538.2" width="13.0" height="5.1" fill="#5e4c9c"/>
<rect x="432.3" y="538.2" width="13.1" height="5.1" fill="#5e4c9c"/>
<rect x="351.9" y="554.8" width="13.3" height="5.0" fill="#5e4c9c"/>
<rect x="366.4" y="554.8" width="13.1" height="5.0" fill="#5e4c9c"/>
<rect x="395.3" y="554.8" width="13.2" height="5.0" fill="#5e4c9c"/>
<rect x="410.3" y="554.8" width="13.3" height="5.0" fill="#5e4c9c"/>
<rect x="425.8" y="554.8" width="13.3" height="5.0" fill="#5e4c9c"/>
<rect x="453.4" y="515.2" width="11.6" height="46.4" fill="#f0954a"/>
<rect x="478.7" y="515.2" width="11.3" height="46.4" fill="#f0954a"/>
<text x="0.0" y="0.0" font-size="6.4" fill="#f9dcba" text-anchor="middle" font-weight="normal" letter-spacing="0" font-family="&quot;Liberation Sans&quot;,&quot;Noto Sans CJK SC&quot;,sans-serif" transform="translate(459.2 543.0) scale(1.2 1)">18</text>
<text x="0.0" y="0.0" font-size="6.4" fill="#f9dcba" text-anchor="middle" font-weight="normal" letter-spacing="0" font-family="&quot;Liberation Sans&quot;,&quot;Noto Sans CJK SC&quot;,sans-serif" transform="translate(484.4 543.0) scale(1.2 1)">18</text>
<rect x="507.2" y="507.8" width="33.5" height="16.8" fill="#e88cb0"/>
<text x="524.0" y="511.8" font-size="4.4" fill="#5a62c0" text-anchor="middle" font-weight="normal" letter-spacing="0.3" font-family="&quot;Liberation Sans&quot;,&quot;Noto Sans CJK SC&quot;,sans-serif">第二学生食堂</text>
<text x="0.0" y="0.0" font-size="9" fill="#ffffff" text-anchor="middle" font-weight="normal" letter-spacing="0" font-family="&quot;Liberation Sans&quot;,&quot;Noto Sans CJK SC&quot;,sans-serif" transform="translate(524.0 519.6) scale(1.3 1)">2</text>
<rect x="549.6" y="504.2" width="42.6" height="5.4" fill="#ee7d1c"/>
<text x="555.6" y="508.7" font-size="4.6" fill="#f6e6c8" text-anchor="middle" font-weight="bold" letter-spacing="0" font-family="&quot;Liberation Sans&quot;,&quot;Noto Sans CJK SC&quot;,sans-serif">1</text>
<text x="574.9" y="508.6" font-size="4.4" fill="#6a5a48" text-anchor="middle" font-weight="normal" letter-spacing="0" font-family="&quot;Liberation Sans&quot;,&quot;Noto Sans CJK SC&quot;,sans-serif">6号楼</text>
<rect x="549.6" y="519.5" width="42.6" height="5.4" fill="#ee7d1c"/>
<text x="555.6" y="524.0" font-size="4.6" fill="#f6e6c8" text-anchor="middle" font-weight="bold" letter-spacing="0" font-family="&quot;Liberation Sans&quot;,&quot;Noto Sans CJK SC&quot;,sans-serif">1</text>
<text x="574.9" y="523.9" font-size="4.4" fill="#6a5a48" text-anchor="middle" font-weight="normal" letter-spacing="0" font-family="&quot;Liberation Sans&quot;,&quot;Noto Sans CJK SC&quot;,sans-serif">7号楼</text>
<rect x="549.6" y="537.6" width="42.6" height="5.4" fill="#ee7d1c"/>
<text x="555.6" y="542.1" font-size="4.6" fill="#f6e6c8" text-anchor="middle" font-weight="bold" letter-spacing="0" font-family="&quot;Liberation Sans&quot;,&quot;Noto Sans CJK SC&quot;,sans-serif">1</text>
<text x="574.9" y="542.0" font-size="4.4" fill="#6a5a48" text-anchor="middle" font-weight="normal" letter-spacing="0" font-family="&quot;Liberation Sans&quot;,&quot;Noto Sans CJK SC&quot;,sans-serif">8号楼</text>
<rect x="549.6" y="550.6" width="42.6" height="5.4" fill="#ee7d1c"/>
<text x="555.6" y="555.1" font-size="4.6" fill="#f6e6c8" text-anchor="middle" font-weight="bold" letter-spacing="0" font-family="&quot;Liberation Sans&quot;,&quot;Noto Sans CJK SC&quot;,sans-serif">1</text>
<text x="574.9" y="555.0" font-size="4.4" fill="#6a5a48" text-anchor="middle" font-weight="normal" letter-spacing="0" font-family="&quot;Liberation Sans&quot;,&quot;Noto Sans CJK SC&quot;,sans-serif">9号楼</text>
<rect x="549.6" y="565.9" width="42.6" height="5.4" fill="#ee7d1c"/>
<text x="555.6" y="570.4" font-size="4.6" fill="#f6e6c8" text-anchor="middle" font-weight="bold" letter-spacing="0" font-family="&quot;Liberation Sans&quot;,&quot;Noto Sans CJK SC&quot;,sans-serif">1</text>
<text x="574.9" y="570.3" font-size="4.4" fill="#6a5a48" text-anchor="middle" font-weight="normal" letter-spacing="0" font-family="&quot;Liberation Sans&quot;,&quot;Noto Sans CJK SC&quot;,sans-serif">10号楼</text>
<rect x="502.5" y="537.6" width="42.6" height="5.4" fill="#ee7d1c"/>
<text x="508.5" y="542.1" font-size="4.6" fill="#f6e6c8" text-anchor="middle" font-weight="bold" letter-spacing="0" font-family="&quot;Liberation Sans&quot;,&quot;Noto Sans CJK SC&quot;,sans-serif">1</text>
<text x="527.8" y="542.0" font-size="4.4" fill="#6a5a48" text-anchor="middle" font-weight="normal" letter-spacing="0" font-family="&quot;Liberation Sans&quot;,&quot;Noto Sans CJK SC&quot;,sans-serif">11号楼</text>
<rect x="502.5" y="550.6" width="42.6" height="5.4" fill="#ee7d1c"/>
<text x="508.5" y="555.1" font-size="4.6" fill="#f6e6c8" text-anchor="middle" font-weight="bold" letter-spacing="0" font-family="&quot;Liberation Sans&quot;,&quot;Noto Sans CJK SC&quot;,sans-serif">1</text>
<text x="527.8" y="555.0" font-size="4.4" fill="#6a5a48" text-anchor="middle" font-weight="normal" letter-spacing="0" font-family="&quot;Liberation Sans&quot;,&quot;Noto Sans CJK SC&quot;,sans-serif">12号楼</text>
<rect x="502.5" y="565.9" width="42.6" height="5.4" fill="#ee7d1c"/>
<text x="508.5" y="570.4" font-size="4.6" fill="#f6e6c8" text-anchor="middle" font-weight="bold" letter-spacing="0" font-family="&quot;Liberation Sans&quot;,&quot;Noto Sans CJK SC&quot;,sans-serif">1</text>
<text x="527.8" y="570.3" font-size="4.4" fill="#6a5a48" text-anchor="middle" font-weight="normal" letter-spacing="0" font-family="&quot;Liberation Sans&quot;,&quot;Noto Sans CJK SC&quot;,sans-serif">13号楼</text>
<text x="571.0" y="534.3" font-size="6.4" fill="#3a86c8" text-anchor="middle" font-weight="normal" letter-spacing="1.2" font-family="&quot;Liberation Sans&quot;,&quot;Noto Sans CJK SC&quot;,sans-serif">学生公寓二区</text>
<rect x="674.2" y="430.1" width="28.3" height="4.6" fill="#ee7d1c"/>
<text x="680.2" y="434.2" font-size="4.6" fill="#f6e6c8" text-anchor="middle" font-weight="bold" letter-spacing="0" font-family="&quot;Liberation Sans&quot;,&quot;Noto Sans CJK SC&quot;,sans-serif">1</text>
<text x="692.4" y="434.1" font-size="4.4" fill="#6a5a48" text-anchor="middle" font-weight="normal" letter-spacing="0" font-family="&quot;Liberation Sans&quot;,&quot;Noto Sans CJK SC&quot;,sans-serif">14号楼</text>
<rect x="674.2" y="436.9" width="28.3" height="4.6" fill="#ee7d1c"/>
<text x="680.2" y="441.0" font-size="4.6" fill="#f6e6c8" text-anchor="middle" font-weight="bold" letter-spacing="0" font-family="&quot;Liberation Sans&quot;,&quot;Noto Sans CJK SC&quot;,sans-serif">1</text>
<text x="692.4" y="440.9" font-size="4.4" fill="#6a5a48" text-anchor="middle" font-weight="normal" letter-spacing="0" font-family="&quot;Liberation Sans&quot;,&quot;Noto Sans CJK SC&quot;,sans-serif">15号楼</text>
<rect x="674.2" y="443.7" width="28.3" height="4.6" fill="#ee7d1c"/>
<text x="680.2" y="447.8" font-size="4.6" fill="#f6e6c8" text-anchor="middle" font-weight="bold" letter-spacing="0" font-family="&quot;Liberation Sans&quot;,&quot;Noto Sans CJK SC&quot;,sans-serif">1</text>
<text x="692.4" y="447.7" font-size="4.4" fill="#6a5a48" text-anchor="middle" font-weight="normal" letter-spacing="0" font-family="&quot;Liberation Sans&quot;,&quot;Noto Sans CJK SC&quot;,sans-serif">16号楼</text>
<rect x="639.9" y="443.7" width="26.8" height="4.6" fill="#ee7d1c"/>
<text x="645.9" y="447.8" font-size="4.6" fill="#f6e6c8" text-anchor="middle" font-weight="bold" letter-spacing="0" font-family="&quot;Liberation Sans&quot;,&quot;Noto Sans CJK SC&quot;,sans-serif">1</text>
<text x="657.3" y="447.7" font-size="4.4" fill="#6a5a48" text-anchor="middle" font-weight="normal" letter-spacing="0" font-family="&quot;Liberation Sans&quot;,&quot;Noto Sans CJK SC&quot;,sans-serif">17号楼</text>
<rect x="617.9" y="451.9" width="22.4" height="30.0" fill="#1f9a5c"/>
<path d="M625.4 451.9 L625.4 481.9" fill="none" stroke="#8fd4a8" stroke-width="0.6" stroke-linejoin="round"/>
<path d="M632.8 451.9 L632.8 481.9" fill="none" stroke="#8fd4a8" stroke-width="0.6" stroke-linejoin="round"/>
<path d="M617.9 461.9 L640.3 461.9" fill="none" stroke="#8fd4a8" stroke-width="0.6" stroke-linejoin="round"/>
<path d="M617.9 471.9 L640.3 471.9" fill="none" stroke="#8fd4a8" stroke-width="0.6" stroke-linejoin="round"/>
<rect x="614.9" y="485.8" width="25.4" height="34.8" fill="#1f9a5c"/>
<path d="M623.4 485.8 L623.4 520.6" fill="none" stroke="#8fd4a8" stroke-width="0.6" stroke-linejoin="round"/>
<path d="M631.8 485.8 L631.8 520.6" fill="none" stroke="#8fd4a8" stroke-width="0.6" stroke-linejoin="round"/>
<path d="M614.9 497.4 L640.3 497.4" fill="none" stroke="#8fd4a8" stroke-width="0.6" stroke-linejoin="round"/>
<path d="M614.9 509.0 L640.3 509.0" fill="none" stroke="#8fd4a8" stroke-width="0.6" stroke-linejoin="round"/>
<rect x="650.8" y="459.1" width="4.2" height="52.7" fill="#1f9a5c"/>
<rect x="697.0" y="457.1" width="8.8" height="54.7" fill="#1f9a5c"/>
<rect x="657" y="452.5" width="45.5" height="64.2" rx="21" ry="19" fill="#1f9a5c"/>
<rect x="662.7" y="457.8" width="36.5" height="54" rx="16.5" ry="14" fill="#f1f2e0"/>
<rect x="665.6" y="465.7" width="31.0" height="38.2" fill="#1f9a5c"/>
<text x="0.0" y="0.0" font-size="5.8" fill="#d8f0e0" text-anchor="middle" font-weight="normal" letter-spacing="0" font-family="&quot;Liberation Sans&quot;,&quot;Noto Sans CJK SC&quot;,sans-serif" transform="translate(681.1 482.6) scale(1.3 1)">23</text>
<text x="681.1" y="488.4" font-size="3.4" fill="#d8f0e0" text-anchor="middle" font-weight="normal" letter-spacing="0" font-family="&quot;Liberation Sans&quot;,&quot;Noto Sans CJK SC&quot;,sans-serif">东体育场</text>
<rect x="710.4" y="453.8" width="8.2" height="62.3" fill="#1f9a5c"/>
<rect x="718.6" y="478.2" width="8.3" height="13.4" fill="#1f9a5c"/>
<path d="M710.4 458.7 L718.6 458.7" fill="none" stroke="#7fcf9c" stroke-width="0.6" stroke-linejoin="round"/>
<path d="M710.4 463.5 L718.6 463.5" fill="none" stroke="#7fcf9c" stroke-width="0.6" stroke-linejoin="round"/>
<path d="M710.4 468.4 L718.6 468.4" fill="none" stroke="#7fcf9c" stroke-width="0.6" stroke-linejoin="round"/>
<path d="M710.4 473.2 L718.6 473.2" fill="none" stroke="#7fcf9c" stroke-width="0.6" stroke-linejoin="round"/>
<path d="M710.4 478.1 L718.6 478.1" fill="none" stroke="#7fcf9c" stroke-width="0.6" stroke-linejoin="round"/>
<path d="M710.4 482.9 L726.9 482.9" fill="none" stroke="#7fcf9c" stroke-width="0.6" stroke-linejoin="round"/>
<path d="M710.4 487.8 L726.9 487.8" fill="none" stroke="#7fcf9c" stroke-width="0.6" stroke-linejoin="round"/>
<path d="M710.4 492.6 L718.6 492.6" fill="none" stroke="#7fcf9c" stroke-width="0.6" stroke-linejoin="round"/>
<path d="M710.4 497.4 L718.6 497.4" fill="none" stroke="#7fcf9c" stroke-width="0.6" stroke-linejoin="round"/>
<path d="M710.4 502.3 L718.6 502.3" fill="none" stroke="#7fcf9c" stroke-width="0.6" stroke-linejoin="round"/>
<path d="M710.4 507.1 L718.6 507.1" fill="none" stroke="#7fcf9c" stroke-width="0.6" stroke-linejoin="round"/>
<path d="M710.4 512.0 L718.6 512.0" fill="none" stroke="#7fcf9c" stroke-width="0.6" stroke-linejoin="round"/>
<path d="M640.4 537.7 L683.5 537.7 L683.5 570.3 L659.9 570.3 L659.9 564.8 L671.7 564.8 L671.7 553.3 L640.4 553.3 Z" fill="#2a80a8"/>
<rect x="613.3" y="564.8" width="42.1" height="5.5" fill="#2a80a8"/>
<text x="0.0" y="0.0" font-size="9.8" fill="#ffffff" text-anchor="middle" font-weight="normal" letter-spacing="1.2" font-family="&quot;Liberation Sans&quot;,&quot;Noto Sans CJK SC&quot;,sans-serif" transform="translate(662.6 549.6) scale(1.3 1)">15</text>
<text x="648.6" y="561.2" font-size="5" fill="#3a869c" text-anchor="middle" font-weight="normal" letter-spacing="1.9" font-family="&quot;Liberation Sans&quot;,&quot;Noto Sans CJK SC&quot;,sans-serif">工程训练中心</text>
<rect x="693.0" y="537.2" width="27.0" height="14.3" fill="#6876c2"/>
<text x="0.0" y="0.0" font-size="9.8" fill="#ffffff" text-anchor="middle" font-weight="normal" letter-spacing="0.6" font-family="&quot;Liberation Sans&quot;,&quot;Noto Sans CJK SC&quot;,sans-serif" transform="translate(707.6 548.6) scale(1.25 1)">16</text>
<text x="696.5" y="540.8" font-size="3.4" fill="#e0e0f8" text-anchor="middle" font-weight="normal" letter-spacing="0" font-family="&quot;Liberation Sans&quot;,&quot;Noto Sans CJK SC&quot;,sans-serif">锅</text>
<text x="696.5" y="545.0" font-size="3.4" fill="#e0e0f8" text-anchor="middle" font-weight="normal" letter-spacing="0" font-family="&quot;Liberation Sans&quot;,&quot;Noto Sans CJK SC&quot;,sans-serif">炉</text>
<text x="696.5" y="549.2" font-size="3.4" fill="#e0e0f8" text-anchor="middle" font-weight="normal" letter-spacing="0" font-family="&quot;Liberation Sans&quot;,&quot;Noto Sans CJK SC&quot;,sans-serif">房</text>
<polygon points="291.5,383.5 291.5,368.4 293.4,368.4 290.2,361.4 287.0,368.4 288.9,368.4 288.9,383.5" fill="#b01024"/>
<polygon points="291.5,450.0 291.5,432.3 293.4,432.3 290.2,425.3 287.0,432.3 288.9,432.3 288.9,450.0" fill="#b01024"/>
<polygon points="334.5,316.7 355.7,311.7 356.1,313.2 364.2,308.4 354.8,307.7 355.1,309.2 333.9,314.1" fill="#b01024"/>
<polygon points="382.0,486.7 363.3,480.7 363.8,478.9 352.3,478.9 361.7,485.6 362.3,483.8 381.0,489.7" fill="#b01024"/>
<polygon points="545.5,495.1 522.5,495.1 522.5,493.6 513.5,496.4 522.5,499.2 522.5,497.7 545.5,497.7" fill="#b01024"/>
<polygon points="603.0,456.0 603.0,471.0 601.3,471.0 604.5,479.0 607.7,471.0 606.0,471.0 606.0,456.0" fill="#b01024"/>
<polygon points="628.7,346.7 628.7,334.3 630.4,334.3 627.3,324.7 624.2,334.3 625.9,334.3 625.9,346.7" fill="#b01024"/>
<polygon points="623.0,352.2 604.1,352.2 604.1,351.0 593.1,353.2 604.1,355.4 604.1,354.2 623.0,354.2" fill="#b01024"/>
<path d="M647.9 354.7 L631.5 354.7" fill="none" stroke="#b01024" stroke-width="2.3" stroke-linejoin="round"/>
<polygon points="631.5,354.0 631.5,362.8 629.8,362.8 632.6,369.8 635.4,362.8 633.8,362.8 633.8,354.0" fill="#b01024"/>
<path d="M480.4 238.4 L496.4 238.4" fill="none" stroke="#c8102a" stroke-width="2.8" stroke-linejoin="round"/>
<polygon points="496.7,239.8 496.7,229.9 498.5,229.9 495.0,222.4 491.5,229.9 493.3,229.9 493.3,239.8" fill="#c8102a"/>
<text x="0.0" y="0.0" font-size="18.4" fill="#18a54a" text-anchor="middle" font-weight="bold" letter-spacing="0" font-family="&quot;Liberation Sans&quot;,&quot;Noto Sans CJK SC&quot;,sans-serif" transform="translate(261.0 231.5) scale(1.36 1)">N</text>
<ellipse cx="259.6" cy="255" rx="16.4" ry="12" fill="none" stroke="#48dc78" stroke-width="0.9"/>
<path d="M259.9 233.4 L245.9 274.4 L259.7 262.8 Z" fill="none" stroke="#48dc78" stroke-width="1.1"/>
<path d="M259.9 233.2 L273.3 272.8 L259.7 262.8 Z" fill="#1bb352"/>
<text x="0.0" y="0.0" font-size="10.2" fill="#2b68ac" text-anchor="middle" font-weight="bold" letter-spacing="0" font-family="&quot;Liberation Sans&quot;,&quot;Noto Sans CJK SC&quot;,sans-serif" transform="translate(319.5 185.3) scale(1.12 1)">沣</text>
<text x="0.0" y="0.0" font-size="10.2" fill="#2b68ac" text-anchor="middle" font-weight="bold" letter-spacing="0" font-family="&quot;Liberation Sans&quot;,&quot;Noto Sans CJK SC&quot;,sans-serif" transform="translate(403.5 185.3) scale(1.12 1)">京</text>
<text x="0.0" y="0.0" font-size="10.2" fill="#2b68ac" text-anchor="middle" font-weight="bold" letter-spacing="0" font-family="&quot;Liberation Sans&quot;,&quot;Noto Sans CJK SC&quot;,sans-serif" transform="translate(485.5 185.3) scale(1.12 1)">大</text>
<text x="0.0" y="0.0" font-size="10.2" fill="#2b68ac" text-anchor="middle" font-weight="bold" letter-spacing="0" font-family="&quot;Liberation Sans&quot;,&quot;Noto Sans CJK SC&quot;,sans-serif" transform="translate(570.0 185.3) scale(1.12 1)">道</text>
<text x="0.0" y="0.0" font-size="10.2" fill="#2b68ac" text-anchor="middle" font-weight="bold" letter-spacing="0" font-family="&quot;Liberation Sans&quot;,&quot;Noto Sans CJK SC&quot;,sans-serif" transform="translate(136.6 279.3) scale(1.12 1)">潭</text>
<text x="0.0" y="0.0" font-size="10.2" fill="#2b68ac" text-anchor="middle" font-weight="bold" letter-spacing="0" font-family="&quot;Liberation Sans&quot;,&quot;Noto Sans CJK SC&quot;,sans-serif" transform="translate(136.6 341.3) scale(1.12 1)">滨</text>
<text x="0.0" y="0.0" font-size="10.2" fill="#2b68ac" text-anchor="middle" font-weight="bold" letter-spacing="0" font-family="&quot;Liberation Sans&quot;,&quot;Noto Sans CJK SC&quot;,sans-serif" transform="translate(136.6 403.5) scale(1.12 1)">南</text>
<text x="0.0" y="0.0" font-size="10.2" fill="#2b68ac" text-anchor="middle" font-weight="bold" letter-spacing="0" font-family="&quot;Liberation Sans&quot;,&quot;Noto Sans CJK SC&quot;,sans-serif" transform="translate(136.6 465.7) scale(1.12 1)">路</text>
<text x="0.0" y="0.0" font-size="10.2" fill="#2b68ac" text-anchor="middle" font-weight="bold" letter-spacing="0" font-family="&quot;Liberation Sans&quot;,&quot;Noto Sans CJK SC&quot;,sans-serif" transform="translate(744.0 284.3) scale(1.12 1)">大</text>
<text x="0.0" y="0.0" font-size="10.2" fill="#2b68ac" text-anchor="middle" font-weight="bold" letter-spacing="0" font-family="&quot;Liberation Sans&quot;,&quot;Noto Sans CJK SC&quot;,sans-serif" transform="translate(744.0 373.3) scale(1.12 1)">庞</text>
<text x="0.0" y="0.0" font-size="10.2" fill="#2b68ac" text-anchor="middle" font-weight="bold" letter-spacing="0" font-family="&quot;Liberation Sans&quot;,&quot;Noto Sans CJK SC&quot;,sans-serif" transform="translate(744.0 460.7) scale(1.12 1)">路</text>
<rect x="781.2" y="221.2" width="29.4" height="6.0" fill="#ee7d1c"/>
<text x="0.0" y="0.0" font-size="6.6" fill="#f2ead6" text-anchor="middle" font-weight="normal" letter-spacing="0" font-family="&quot;Liberation Sans&quot;,&quot;Noto Sans CJK SC&quot;,sans-serif" transform="translate(796.0 226.6) scale(1.3 1)">1</text>
<text x="0.0" y="0.0" font-size="10.2" fill="#2b68ac" text-anchor="start" font-weight="500" letter-spacing="1.5" font-family="&quot;Liberation Sans&quot;,&quot;Noto Sans CJK SC&quot;,sans-serif" transform="translate(840.0 227.9) scale(1.2 1)">学生公寓</text>
<rect x="781.2" y="234.7" width="29.4" height="6.0" fill="#e890a8"/>
<text x="0.0" y="0.0" font-size="6.6" fill="#f2ead6" text-anchor="middle" font-weight="normal" letter-spacing="0" font-family="&quot;Liberation Sans&quot;,&quot;Noto Sans CJK SC&quot;,sans-serif" transform="translate(796.0 240.1) scale(1.3 1)">2</text>
<text x="0.0" y="0.0" font-size="10.2" fill="#2b68ac" text-anchor="start" font-weight="500" letter-spacing="1.5" font-family="&quot;Liberation Sans&quot;,&quot;Noto Sans CJK SC&quot;,sans-serif" transform="translate(840.0 241.4) scale(1.2 1)">学生食堂</text>
<rect x="781.2" y="248.2" width="29.4" height="6.0" fill="#e0c020"/>
<text x="0.0" y="0.0" font-size="6.6" fill="#f2ead6" text-anchor="middle" font-weight="normal" letter-spacing="0" font-family="&quot;Liberation Sans&quot;,&quot;Noto Sans CJK SC&quot;,sans-serif" transform="translate(796.0 253.6) scale(1.3 1)">3</text>
<text x="0.0" y="0.0" font-size="10.2" fill="#2b68ac" text-anchor="start" font-weight="500" letter-spacing="1.5" font-family="&quot;Liberation Sans&quot;,&quot;Noto Sans CJK SC&quot;,sans-serif" transform="translate(840.0 254.9) scale(1.2 1)">综合楼</text>
<rect x="781.2" y="261.7" width="29.4" height="6.0" fill="#158a48"/>
<text x="0.0" y="0.0" font-size="6.6" fill="#f2ead6" text-anchor="middle" font-weight="normal" letter-spacing="0" font-family="&quot;Liberation Sans&quot;,&quot;Noto Sans CJK SC&quot;,sans-serif" transform="translate(796.0 267.1) scale(1.3 1)">4</text>
<text x="0.0" y="0.0" font-size="10.2" fill="#2b68ac" text-anchor="start" font-weight="500" letter-spacing="1.5" font-family="&quot;Liberation Sans&quot;,&quot;Noto Sans CJK SC&quot;,sans-serif" transform="translate(840.0 268.4) scale(1.2 1)">训练场</text>
<rect x="781.2" y="275.2" width="29.4" height="6.0" fill="#5cba78"/>
<text x="0.0" y="0.0" font-size="6.6" fill="#f2ead6" text-anchor="middle" font-weight="normal" letter-spacing="0" font-family="&quot;Liberation Sans&quot;,&quot;Noto Sans CJK SC&quot;,sans-serif" transform="translate(796.0 280.6) scale(1.3 1)">5</text>
<text x="0.0" y="0.0" font-size="10.2" fill="#2b68ac" text-anchor="start" font-weight="500" letter-spacing="1.5" font-family="&quot;Liberation Sans&quot;,&quot;Noto Sans CJK SC&quot;,sans-serif" transform="translate(840.0 281.9) scale(1.2 1)">球类场地</text>
<rect x="781.2" y="288.7" width="29.4" height="6.0" fill="#9a4490"/>
<text x="0.0" y="0.0" font-size="6.6" fill="#f2ead6" text-anchor="middle" font-weight="normal" letter-spacing="0" font-family="&quot;Liberation Sans&quot;,&quot;Noto Sans CJK SC&quot;,sans-serif" transform="translate(796.0 294.1) scale(1.3 1)">6</text>
<text x="0.0" y="0.0" font-size="10.2" fill="#2b68ac" text-anchor="start" font-weight="500" letter-spacing="1.6" font-family="&quot;Liberation Sans&quot;,&quot;Noto Sans CJK SC&quot;,sans-serif" transform="translate(840.0 295.4) scale(1.2 1)">C1</text>
<text x="0.0" y="0.0" font-size="10.2" fill="#2b68ac" text-anchor="start" font-weight="500" letter-spacing="0" font-family="&quot;Liberation Sans&quot;,&quot;Noto Sans CJK SC&quot;,sans-serif" transform="translate(861.5 295.4) scale(1.2 1)">楼</text>
<rect x="781.2" y="302.2" width="29.4" height="6.0" fill="#1c88c8"/>
<text x="0.0" y="0.0" font-size="6.6" fill="#f2ead6" text-anchor="middle" font-weight="normal" letter-spacing="0" font-family="&quot;Liberation Sans&quot;,&quot;Noto Sans CJK SC&quot;,sans-serif" transform="translate(796.0 307.6) scale(1.3 1)">7</text>
<text x="0.0" y="0.0" font-size="10.2" fill="#2b68ac" text-anchor="start" font-weight="500" letter-spacing="1.5" font-family="&quot;Liberation Sans&quot;,&quot;Noto Sans CJK SC&quot;,sans-serif" transform="translate(840.0 308.9) scale(1.2 1)">管道楼</text>
<rect x="781.2" y="315.7" width="29.4" height="6.0" fill="#6a4a9e"/>
<text x="0.0" y="0.0" font-size="6.6" fill="#f2ead6" text-anchor="middle" font-weight="normal" letter-spacing="0" font-family="&quot;Liberation Sans&quot;,&quot;Noto Sans CJK SC&quot;,sans-serif" transform="translate(796.0 321.1) scale(1.3 1)">8</text>
<text x="0.0" y="0.0" font-size="10.2" fill="#2b68ac" text-anchor="start" font-weight="500" letter-spacing="1.5" font-family="&quot;Liberation Sans&quot;,&quot;Noto Sans CJK SC&quot;,sans-serif" transform="translate(840.0 322.4) scale(1.2 1)">冀东楼</text>
<rect x="781.2" y="329.2" width="29.4" height="6.0" fill="#4a9aba"/>
<text x="0.0" y="0.0" font-size="6.6" fill="#f2ead6" text-anchor="middle" font-weight="normal" letter-spacing="0" font-family="&quot;Liberation Sans&quot;,&quot;Noto Sans CJK SC&quot;,sans-serif" transform="translate(796.0 334.6) scale(1.3 1)">9</text>
<text x="0.0" y="0.0" font-size="10.2" fill="#2b68ac" text-anchor="start" font-weight="500" letter-spacing="1.5" font-family="&quot;Liberation Sans&quot;,&quot;Noto Sans CJK SC&quot;,sans-serif" transform="translate(840.0 335.9) scale(1.2 1)">办公楼</text>
<rect x="781.2" y="342.7" width="29.4" height="6.0" fill="#1458a0"/>
<text x="0.0" y="0.0" font-size="6.6" fill="#f2ead6" text-anchor="middle" font-weight="normal" letter-spacing="0" font-family="&quot;Liberation Sans&quot;,&quot;Noto Sans CJK SC&quot;,sans-serif" transform="translate(796.0 348.1) scale(1.3 1)">10</text>
<text x="0.0" y="0.0" font-size="10.2" fill="#2b68ac" text-anchor="start" font-weight="500" letter-spacing="1.5" font-family="&quot;Liberation Sans&quot;,&quot;Noto Sans CJK SC&quot;,sans-serif" transform="translate(840.0 349.4) scale(1.2 1)">第一教学楼</text>
<rect x="781.2" y="356.2" width="29.4" height="6.0" fill="#2ab0b8"/>
<text x="0.0" y="0.0" font-size="6.6" fill="#f2ead6" text-anchor="middle" font-weight="normal" letter-spacing="0" font-family="&quot;Liberation Sans&quot;,&quot;Noto Sans CJK SC&quot;,sans-serif" transform="translate(796.0 361.6) scale(1.3 1)">11</text>
<text x="0.0" y="0.0" font-size="10.2" fill="#2b68ac" text-anchor="start" font-weight="500" letter-spacing="1.5" font-family="&quot;Liberation Sans&quot;,&quot;Noto Sans CJK SC&quot;,sans-serif" transform="translate(840.0 362.9) scale(1.2 1)">第二教学楼</text>
<rect x="781.2" y="369.7" width="29.4" height="6.0" fill="#1c98e0"/>
<text x="0.0" y="0.0" font-size="6.6" fill="#f2ead6" text-anchor="middle" font-weight="normal" letter-spacing="0" font-family="&quot;Liberation Sans&quot;,&quot;Noto Sans CJK SC&quot;,sans-serif" transform="translate(796.0 375.1) scale(1.3 1)">12</text>
<text x="0.0" y="0.0" font-size="10.2" fill="#2b68ac" text-anchor="start" font-weight="500" letter-spacing="1.4" font-family="&quot;Liberation Sans&quot;,&quot;Noto Sans CJK SC&quot;,sans-serif" transform="translate(840.0 376.4) scale(1.2 1)">图书馆</text>
<text x="0.0" y="0.0" font-size="10.2" fill="#2b68ac" text-anchor="start" font-weight="500" letter-spacing="0.2" font-family="&quot;Liberation Sans&quot;,&quot;Noto Sans CJK SC&quot;,sans-serif" transform="translate(879.0 376.4) scale(1.2 1)">（长庆楼）</text>
<rect x="781.2" y="383.2" width="29.4" height="6.0" fill="#e03028"/>
<text x="0.0" y="0.0" font-size="6.6" fill="#f2ead6" text-anchor="middle" font-weight="normal" letter-spacing="0" font-family="&quot;Liberation Sans&quot;,&quot;Noto Sans CJK SC&quot;,sans-serif" transform="translate(796.0 388.6) scale(1.3 1)">13</text>
<text x="0.0" y="0.0" font-size="10.2" fill="#2b68ac" text-anchor="start" font-weight="500" letter-spacing="1.5" font-family="&quot;Liberation Sans&quot;,&quot;Noto Sans CJK SC&quot;,sans-serif" transform="translate(840.0 389.9) scale(1.2 1)">热交换站</text>
<rect x="781.2" y="396.7" width="29.4" height="6.0" fill="#c8882c"/>
<text x="0.0" y="0.0" font-size="6.6" fill="#f2ead6" text-anchor="middle" font-weight="normal" letter-spacing="0" font-family="&quot;Liberation Sans&quot;,&quot;Noto Sans CJK SC&quot;,sans-serif" transform="translate(796.0 402.1) scale(1.3 1)">14</text>
<text x="0.0" y="0.0" font-size="10.2" fill="#2b68ac" text-anchor="start" font-weight="500" letter-spacing="1.5" font-family="&quot;Liberation Sans&quot;,&quot;Noto Sans CJK SC&quot;,sans-serif" transform="translate(840.0 403.4) scale(1.2 1)">中心配电室</text>
<rect x="781.2" y="410.2" width="29.4" height="6.0" fill="#2a88a8"/>
<text x="0.0" y="0.0" font-size="6.6" fill="#f2ead6" text-anchor="middle" font-weight="normal" letter-spacing="0" font-family="&quot;Liberation Sans&quot;,&quot;Noto Sans CJK SC&quot;,sans-serif" transform="translate(796.0 415.6) scale(1.3 1)">15</text>
<text x="0.0" y="0.0" font-size="10.2" fill="#2b68ac" text-anchor="start" font-weight="500" letter-spacing="1.5" font-family="&quot;Liberation Sans&quot;,&quot;Noto Sans CJK SC&quot;,sans-serif" transform="translate(840.0 416.9) scale(1.2 1)">工程训练中心</text>
<rect x="781.2" y="423.7" width="29.4" height="6.0" fill="#7078c0"/>
<text x="0.0" y="0.0" font-size="6.6" fill="#f2ead6" text-anchor="middle" font-weight="normal" letter-spacing="0" font-family="&quot;Liberation Sans&quot;,&quot;Noto Sans CJK SC&quot;,sans-serif" transform="translate(796.0 429.1) scale(1.3 1)">16</text>
<text x="0.0" y="0.0" font-size="10.2" fill="#2b68ac" text-anchor="start" font-weight="500" letter-spacing="1.5" font-family="&quot;Liberation Sans&quot;,&quot;Noto Sans CJK SC&quot;,sans-serif" transform="translate(840.0 430.4) scale(1.2 1)">锅炉房</text>
<rect x="781.2" y="437.2" width="29.4" height="6.0" fill="#d850a0"/>
<text x="0.0" y="0.0" font-size="6.6" fill="#f2ead6" text-anchor="middle" font-weight="normal" letter-spacing="0" font-family="&quot;Liberation Sans&quot;,&quot;Noto Sans CJK SC&quot;,sans-serif" transform="translate(796.0 442.6) scale(1.3 1)">17</text>
<text x="0.0" y="0.0" font-size="10.2" fill="#2b68ac" text-anchor="start" font-weight="500" letter-spacing="1.5" font-family="&quot;Liberation Sans&quot;,&quot;Noto Sans CJK SC&quot;,sans-serif" transform="translate(840.0 443.9) scale(1.2 1)">新校区医务室</text>
<rect x="781.2" y="450.7" width="29.4" height="6.0" fill="#c8a050"/>
<text x="0.0" y="0.0" font-size="6.6" fill="#f2ead6" text-anchor="middle" font-weight="normal" letter-spacing="0" font-family="&quot;Liberation Sans&quot;,&quot;Noto Sans CJK SC&quot;,sans-serif" transform="translate(796.0 456.1) scale(1.3 1)">18</text>
<text x="0.0" y="0.0" font-size="10.2" fill="#2b68ac" text-anchor="start" font-weight="500" letter-spacing="1.5" font-family="&quot;Liberation Sans&quot;,&quot;Noto Sans CJK SC&quot;,sans-serif" transform="translate(840.0 457.4) scale(1.2 1)">综合服务一条街</text>
<rect x="781.2" y="464.2" width="29.4" height="6.0" fill="#6e58a8"/>
<text x="0.0" y="0.0" font-size="6.6" fill="#f2ead6" text-anchor="middle" font-weight="normal" letter-spacing="0" font-family="&quot;Liberation Sans&quot;,&quot;Noto Sans CJK SC&quot;,sans-serif" transform="translate(796.0 469.6) scale(1.3 1)">19</text>
<text x="0.0" y="0.0" font-size="10.2" fill="#2b68ac" text-anchor="start" font-weight="500" letter-spacing="1.5" font-family="&quot;Liberation Sans&quot;,&quot;Noto Sans CJK SC&quot;,sans-serif" transform="translate(840.0 470.9) scale(1.2 1)">教工住宅</text>
<rect x="781.2" y="479.4" width="29.4" height="6.0" fill="#8878a8"/>
<text x="0.0" y="0.0" font-size="6.6" fill="#f2ead6" text-anchor="middle" font-weight="normal" letter-spacing="0" font-family="&quot;Liberation Sans&quot;,&quot;Noto Sans CJK SC&quot;,sans-serif" transform="translate(796.0 484.8) scale(1.3 1)">20</text>
<text x="0.0" y="0.0" font-size="6.6" fill="#2b68ac" text-anchor="start" font-weight="bold" letter-spacing="1.5" font-family="&quot;Liberation Sans&quot;,&quot;Noto Sans CJK SC&quot;,sans-serif" transform="translate(840.0 483.9) scale(1.2 1)">机械材料楼（机械工程学院</text>
<text x="0.0" y="0.0" font-size="6.6" fill="#2b68ac" text-anchor="start" font-weight="bold" letter-spacing="1.5" font-family="&quot;Liberation Sans&quot;,&quot;Noto Sans CJK SC&quot;,sans-serif" transform="translate(840.0 491.8) scale(1.2 1)">材料科学与工程学院）</text>
<rect x="781.2" y="497.6" width="29.4" height="6.0" fill="#2a1c7c"/>
<text x="0.0" y="0.0" font-size="6.6" fill="#f2ead6" text-anchor="middle" font-weight="normal" letter-spacing="0" font-family="&quot;Liberation Sans&quot;,&quot;Noto Sans CJK SC&quot;,sans-serif" transform="translate(796.0 503.0) scale(1.3 1)">21</text>
<text x="0.0" y="0.0" font-size="6.6" fill="#2b68ac" text-anchor="start" font-weight="bold" letter-spacing="1.5" font-family="&quot;Liberation Sans&quot;,&quot;Noto Sans CJK SC&quot;,sans-serif" transform="translate(840.0 502.1) scale(1.2 1)">石工地科楼 （石油工程学院</text>
<text x="0.0" y="0.0" font-size="6.6" fill="#2b68ac" text-anchor="start" font-weight="bold" letter-spacing="1.5" font-family="&quot;Liberation Sans&quot;,&quot;Noto Sans CJK SC&quot;,sans-serif" transform="translate(840.0 509.8) scale(1.2 1)">地球科学与工程学院）</text>
<rect x="781.2" y="515.8" width="29.4" height="6.0" fill="#2a1c7c"/>
<text x="0.0" y="0.0" font-size="6.6" fill="#f2ead6" text-anchor="middle" font-weight="normal" letter-spacing="0" font-family="&quot;Liberation Sans&quot;,&quot;Noto Sans CJK SC&quot;,sans-serif" transform="translate(796.0 521.2) scale(1.3 1)">22</text>
<text x="0.0" y="0.0" font-size="6.6" fill="#2b68ac" text-anchor="start" font-weight="bold" letter-spacing="1.5" font-family="&quot;Liberation Sans&quot;,&quot;Noto Sans CJK SC&quot;,sans-serif" transform="translate(840.0 519.8) scale(1.2 1)">经管人文楼（经济管理学院</text>
<text x="0.0" y="0.0" font-size="6.6" fill="#2b68ac" text-anchor="start" font-weight="bold" letter-spacing="1.5" font-family="&quot;Liberation Sans&quot;,&quot;Noto Sans CJK SC&quot;,sans-serif" transform="translate(840.0 527.4) scale(1.2 1)">人文学院 外国语学院 思政部 ）</text>
<rect x="781.2" y="534.4" width="29.4" height="6.0" fill="#1a9a60"/>
<text x="0.0" y="0.0" font-size="6.6" fill="#f2ead6" text-anchor="middle" font-weight="normal" letter-spacing="0" font-family="&quot;Liberation Sans&quot;,&quot;Noto Sans CJK SC&quot;,sans-serif" transform="translate(796.0 539.8) scale(1.3 1)">23</text>
<text x="0.0" y="0.0" font-size="6.6" fill="#2b68ac" text-anchor="start" font-weight="bold" letter-spacing="1.5" font-family="&quot;Liberation Sans&quot;,&quot;Noto Sans CJK SC&quot;,sans-serif" transform="translate(840.0 541.2) scale(1.2 1)">东体育场</text>
<rect x="781.2" y="552.6" width="29.4" height="6.0" fill="#a8ccd8"/>
<text x="0.0" y="0.0" font-size="10.2" fill="#2b68ac" text-anchor="start" font-weight="500" letter-spacing="1.5" font-family="&quot;Liberation Sans&quot;,&quot;Noto Sans CJK SC&quot;,sans-serif" transform="translate(840.0 559.3) scale(1.2 1)">待建设施</text>
<text x="0.0" y="0.0" font-size="31" fill="#1a4b8b" text-anchor="middle" font-weight="900" letter-spacing="0" font-family="&quot;Liberation Serif&quot;,&quot;Noto Serif CJK SC&quot;,serif" stroke="#1a4b8b" stroke-width="0.5" transform="translate(219.2 117) scale(1.2 1)">西</text>
<text x="0.0" y="0.0" font-size="31" fill="#1a4b8b" text-anchor="middle" font-weight="900" letter-spacing="0" font-family="&quot;Liberation Serif&quot;,&quot;Noto Serif CJK SC&quot;,serif" stroke="#1a4b8b" stroke-width="0.5" transform="translate(268.9 117) scale(1.2 1)">安</text>
<text x="0.0" y="0.0" font-size="31" fill="#1a4b8b" text-anchor="middle" font-weight="900" letter-spacing="0" font-family="&quot;Liberation Serif&quot;,&quot;Noto Serif CJK SC&quot;,serif" stroke="#1a4b8b" stroke-width="0.5" transform="translate(318.6 117) scale(1.2 1)">石</text>
<text x="0.0" y="0.0" font-size="31" fill="#1a4b8b" text-anchor="middle" font-weight="900" letter-spacing="0" font-family="&quot;Liberation Serif&quot;,&quot;Noto Serif CJK SC&quot;,serif" stroke="#1a4b8b" stroke-width="0.5" transform="translate(368.3 117) scale(1.2 1)">油</text>
<text x="0.0" y="0.0" font-size="31" fill="#1a4b8b" text-anchor="middle" font-weight="900" letter-spacing="0" font-family="&quot;Liberation Serif&quot;,&quot;Noto Serif CJK SC&quot;,serif" stroke="#1a4b8b" stroke-width="0.5" transform="translate(418.0 117) scale(1.2 1)">大</text>
<text x="0.0" y="0.0" font-size="31" fill="#1a4b8b" text-anchor="middle" font-weight="900" letter-spacing="0" font-family="&quot;Liberation Serif&quot;,&quot;Noto Serif CJK SC&quot;,serif" stroke="#1a4b8b" stroke-width="0.5" transform="translate(467.7 117) scale(1.2 1)">学</text>
<text x="0.0" y="0.0" font-size="31" fill="#1a4b8b" text-anchor="middle" font-weight="900" letter-spacing="0" font-family="&quot;Liberation Serif&quot;,&quot;Noto Serif CJK SC&quot;,serif" stroke="#1a4b8b" stroke-width="0.5" transform="translate(517.4 117) scale(1.2 1)">鄠</text>
<text x="0.0" y="0.0" font-size="31" fill="#1a4b8b" text-anchor="middle" font-weight="900" letter-spacing="0" font-family="&quot;Liberation Serif&quot;,&quot;Noto Serif CJK SC&quot;,serif" stroke="#1a4b8b" stroke-width="0.5" transform="translate(567.1 117) scale(1.2 1)">邑</text>
<text x="0.0" y="0.0" font-size="31" fill="#1a4b8b" text-anchor="middle" font-weight="900" letter-spacing="0" font-family="&quot;Liberation Serif&quot;,&quot;Noto Serif CJK SC&quot;,serif" stroke="#1a4b8b" stroke-width="0.5" transform="translate(616.8 117) scale(1.2 1)">校</text>
<text x="0.0" y="0.0" font-size="31" fill="#1a4b8b" text-anchor="middle" font-weight="900" letter-spacing="0" font-family="&quot;Liberation Serif&quot;,&quot;Noto Serif CJK SC&quot;,serif" stroke="#1a4b8b" stroke-width="0.5" transform="translate(666.5 117) scale(1.2 1)">区</text>
<text x="0.0" y="0.0" font-size="31" fill="#1a4b8b" text-anchor="middle" font-weight="900" letter-spacing="0" font-family="&quot;Liberation Serif&quot;,&quot;Noto Serif CJK SC&quot;,serif" stroke="#1a4b8b" stroke-width="0.5" transform="translate(716.2 117) scale(1.2 1)">平</text>
<text x="0.0" y="0.0" font-size="31" fill="#1a4b8b" text-anchor="middle" font-weight="900" letter-spacing="0" font-family="&quot;Liberation Serif&quot;,&quot;Noto Serif CJK SC&quot;,serif" stroke="#1a4b8b" stroke-width="0.5" transform="translate(765.9 117) scale(1.2 1)">面</text>
<text x="0.0" y="0.0" font-size="31" fill="#1a4b8b" text-anchor="middle" font-weight="900" letter-spacing="0" font-family="&quot;Liberation Serif&quot;,&quot;Noto Serif CJK SC&quot;,serif" stroke="#1a4b8b" stroke-width="0.5" transform="translate(815.6 117) scale(1.2 1)">导</text>
<text x="0.0" y="0.0" font-size="31" fill="#1a4b8b" text-anchor="middle" font-weight="900" letter-spacing="0" font-family="&quot;Liberation Serif&quot;,&quot;Noto Serif CJK SC&quot;,serif" stroke="#1a4b8b" stroke-width="0.5" transform="translate(865.3 117) scale(1.2 1)">示</text>
<text x="0.0" y="0.0" font-size="31" fill="#1a4b8b" text-anchor="middle" font-weight="900" letter-spacing="0" font-family="&quot;Liberation Serif&quot;,&quot;Noto Serif CJK SC&quot;,serif" stroke="#1a4b8b" stroke-width="0.5" transform="translate(915.0 117) scale(1.2 1)">图</text>
<ellipse cx="147" cy="106" rx="40.4" ry="28.8" fill="#ffffff" stroke="#6a6a6a" stroke-width="1"/>
<ellipse cx="146.6" cy="107.1" rx="26.2" ry="19.2" fill="#1a55a8"/>
<path d="M125.5 116.8 L159 96 L164 95 L165.5 98 L137 116.8 Z" fill="#ffffff"/>
<path d="M137.4 111.9 L160.7 98.2" stroke="#1a55a8" stroke-width="0.7" fill="none"/>
<path d="M137.7 99.2 L140.6 97.1 L145 97.6 L161.2 111 L158 112.6 L139.5 102 Z" fill="#ffffff"/>
<path d="M165 96 C170.8 100 170.5 106.5 158.5 111.9" stroke="#ffffff" stroke-width="1.2" fill="none"/>
<rect x="142.8" y="120.7" width="9.2" height="3.0" fill="#ffffff"/>
<text x="147.4" y="123.3" font-size="2.8" fill="#1a55a8" text-anchor="middle" font-weight="bold" letter-spacing="0" font-family="&quot;Liberation Sans&quot;,&quot;Noto Sans CJK SC&quot;,sans-serif">1951</text>
<path id="lgT" d="M117.4 103 A30 21.5 0 0 1 176.6 103" fill="none"/>
<path id="lgB" d="M110.3 103 A37 26.3 0 1 0 183.7 103" fill="none"/>
<text font-size="5.6" fill="#d0303c" font-weight="bold" font-family="&quot;Liberation Serif&quot;,&quot;Noto Serif CJK SC&quot;,serif" letter-spacing="6.2"><textPath href="#lgT" startOffset="52%" text-anchor="middle">西安石油大学</textPath></text>
<text font-size="4.3" fill="#555555" font-weight="bold" font-family="&quot;Liberation Sans&quot;,sans-serif" letter-spacing="1.75"><textPath href="#lgB" startOffset="50.5%" text-anchor="middle">XI&#39;AN SHIYOU  UNIVERSITY</textPath></text>
</svg>
</body></html>
